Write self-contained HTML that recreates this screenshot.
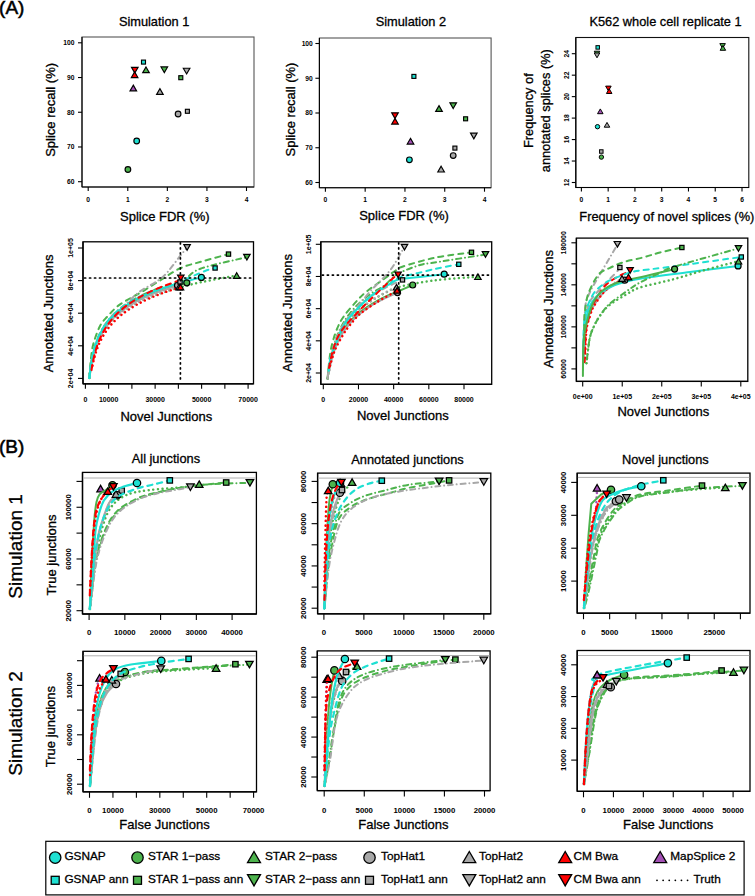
<!DOCTYPE html>
<html><head><meta charset="utf-8"><title>Figure</title>
<style>
html,body{margin:0;padding:0;background:#fff;}
body{width:755px;height:896px;overflow:hidden;}
svg{display:block;}
text{font-family:"Liberation Sans", sans-serif;}
</style></head><body>
<svg width="755" height="896" viewBox="0 0 755 896" font-family='"Liberation Sans", sans-serif'>
<rect width="100%" height="100%" fill="#fff"/>
<text x="-0.9" y="14.1" font-size="19" text-anchor="start" fill="#000" stroke="#000" stroke-width="0.55">(A)</text>
<text x="-1" y="452.8" font-size="19" text-anchor="start" fill="#000" stroke="#000" stroke-width="0.55">(B)</text>
<rect x="82" y="37" width="172" height="150" stroke="#555" stroke-width="1.1" fill="none"/>
<line x1="82" y1="37" x2="82" y2="187" stroke="#000" stroke-width="1.1" stroke-linecap="butt"/>
<line x1="82" y1="187" x2="254" y2="187" stroke="#000" stroke-width="1.1" stroke-linecap="butt"/>
<line x1="78" y1="181.7" x2="82" y2="181.7" stroke="#000" stroke-width="1.1" stroke-linecap="butt"/>
<text x="74.5" y="184.11" font-size="6.7" text-anchor="end" fill="#000" font-weight="bold">60</text>
<line x1="78" y1="146.97" x2="82" y2="146.97" stroke="#000" stroke-width="1.1" stroke-linecap="butt"/>
<text x="74.5" y="149.39" font-size="6.7" text-anchor="end" fill="#000" font-weight="bold">70</text>
<line x1="78" y1="112.25" x2="82" y2="112.25" stroke="#000" stroke-width="1.1" stroke-linecap="butt"/>
<text x="74.5" y="114.66" font-size="6.7" text-anchor="end" fill="#000" font-weight="bold">80</text>
<line x1="78" y1="77.53" x2="82" y2="77.53" stroke="#000" stroke-width="1.1" stroke-linecap="butt"/>
<text x="74.5" y="79.94" font-size="6.7" text-anchor="end" fill="#000" font-weight="bold">90</text>
<line x1="78" y1="42.8" x2="82" y2="42.8" stroke="#000" stroke-width="1.1" stroke-linecap="butt"/>
<text x="74.5" y="45.21" font-size="6.7" text-anchor="end" fill="#000" font-weight="bold">100</text>
<line x1="88.2" y1="187" x2="88.2" y2="191" stroke="#000" stroke-width="1.1" stroke-linecap="butt"/>
<text x="88.2" y="201.6" font-size="6.7" text-anchor="middle" fill="#000" font-weight="bold">0</text>
<line x1="127.78" y1="187" x2="127.78" y2="191" stroke="#000" stroke-width="1.1" stroke-linecap="butt"/>
<text x="127.78" y="201.6" font-size="6.7" text-anchor="middle" fill="#000" font-weight="bold">1</text>
<line x1="167.35" y1="187" x2="167.35" y2="191" stroke="#000" stroke-width="1.1" stroke-linecap="butt"/>
<text x="167.35" y="201.6" font-size="6.7" text-anchor="middle" fill="#000" font-weight="bold">2</text>
<line x1="206.93" y1="187" x2="206.93" y2="191" stroke="#000" stroke-width="1.1" stroke-linecap="butt"/>
<text x="206.93" y="201.6" font-size="6.7" text-anchor="middle" fill="#000" font-weight="bold">3</text>
<line x1="246.5" y1="187" x2="246.5" y2="191" stroke="#000" stroke-width="1.1" stroke-linecap="butt"/>
<text x="246.5" y="201.6" font-size="6.7" text-anchor="middle" fill="#000" font-weight="bold">4</text>
<text x="154.1" y="25.8" font-size="12.8" text-anchor="middle" fill="#000" stroke="#000" stroke-width="0.3">Simulation 1</text>
<text x="55" y="109.9" font-size="13" text-anchor="middle" fill="#000" transform="rotate(-90 55 109.9)" stroke="#000" stroke-width="0.3">Splice recall (%)</text>
<text x="164.8" y="220.8" font-size="13" text-anchor="middle" fill="#000" stroke="#000" stroke-width="0.3">Splice FDR (%)</text>
<rect x="141.5" y="60.1" width="3.99" height="3.99" fill="#1ee0d2" stroke="#000" stroke-width="1.15"/>
<polygon points="146,66.94 149.3,72.66 142.7,72.66" fill="#4db34d" stroke="#000" stroke-width="1.15" stroke-linejoin="miter"/>
<polygon points="164.3,72.66 167.6,66.94 161,66.94" fill="#4db34d" stroke="#000" stroke-width="1.15" stroke-linejoin="miter"/>
<polygon points="186.6,73.96 189.9,68.24 183.3,68.24" fill="#a8a8a8" stroke="#000" stroke-width="1.15" stroke-linejoin="miter"/>
<rect x="178.8" y="75.7" width="3.99" height="3.99" fill="#4db34d" stroke="#000" stroke-width="1.15"/>
<polygon points="134.8,73.06 138.1,67.34 131.5,67.34" fill="#ff0000" stroke="#000" stroke-width="1.15" stroke-linejoin="miter"/>
<polygon points="134.6,71.84 137.9,77.56 131.3,77.56" fill="#ff0000" stroke="#000" stroke-width="1.15" stroke-linejoin="miter"/>
<polygon points="133.3,85.14 136.6,90.86 130,90.86" fill="#a350b5" stroke="#000" stroke-width="1.15" stroke-linejoin="miter"/>
<polygon points="159.9,88.64 163.2,94.36 156.6,94.36" fill="#a8a8a8" stroke="#000" stroke-width="1.15" stroke-linejoin="miter"/>
<circle cx="178.1" cy="114" r="2.84" fill="#a8a8a8" stroke="#000" stroke-width="1.15"/>
<rect x="185.4" y="109.3" width="3.99" height="3.99" fill="#a8a8a8" stroke="#000" stroke-width="1.15"/>
<circle cx="136.7" cy="141" r="2.84" fill="#1ee0d2" stroke="#000" stroke-width="1.15"/>
<circle cx="127.9" cy="169.5" r="2.84" fill="#4db34d" stroke="#000" stroke-width="1.15"/>
<rect x="319.4" y="38" width="171.7" height="149.7" stroke="#555" stroke-width="1.1" fill="none"/>
<line x1="319.4" y1="38" x2="319.4" y2="187.7" stroke="#000" stroke-width="1.1" stroke-linecap="butt"/>
<line x1="319.4" y1="187.7" x2="491.1" y2="187.7" stroke="#000" stroke-width="1.1" stroke-linecap="butt"/>
<line x1="315.4" y1="182.5" x2="319.4" y2="182.5" stroke="#000" stroke-width="1.1" stroke-linecap="butt"/>
<text x="312.8" y="184.91" font-size="6.7" text-anchor="end" fill="#000" font-weight="bold">60</text>
<line x1="315.4" y1="147.75" x2="319.4" y2="147.75" stroke="#000" stroke-width="1.1" stroke-linecap="butt"/>
<text x="312.8" y="150.16" font-size="6.7" text-anchor="end" fill="#000" font-weight="bold">70</text>
<line x1="315.4" y1="113" x2="319.4" y2="113" stroke="#000" stroke-width="1.1" stroke-linecap="butt"/>
<text x="312.8" y="115.41" font-size="6.7" text-anchor="end" fill="#000" font-weight="bold">80</text>
<line x1="315.4" y1="78.25" x2="319.4" y2="78.25" stroke="#000" stroke-width="1.1" stroke-linecap="butt"/>
<text x="312.8" y="80.66" font-size="6.7" text-anchor="end" fill="#000" font-weight="bold">90</text>
<line x1="315.4" y1="43.5" x2="319.4" y2="43.5" stroke="#000" stroke-width="1.1" stroke-linecap="butt"/>
<text x="312.8" y="45.91" font-size="6.7" text-anchor="end" fill="#000" font-weight="bold">100</text>
<line x1="325.4" y1="187.7" x2="325.4" y2="191.7" stroke="#000" stroke-width="1.1" stroke-linecap="butt"/>
<text x="325.4" y="202.3" font-size="6.7" text-anchor="middle" fill="#000" font-weight="bold">0</text>
<line x1="365.17" y1="187.7" x2="365.17" y2="191.7" stroke="#000" stroke-width="1.1" stroke-linecap="butt"/>
<text x="365.17" y="202.3" font-size="6.7" text-anchor="middle" fill="#000" font-weight="bold">1</text>
<line x1="404.95" y1="187.7" x2="404.95" y2="191.7" stroke="#000" stroke-width="1.1" stroke-linecap="butt"/>
<text x="404.95" y="202.3" font-size="6.7" text-anchor="middle" fill="#000" font-weight="bold">2</text>
<line x1="444.73" y1="187.7" x2="444.73" y2="191.7" stroke="#000" stroke-width="1.1" stroke-linecap="butt"/>
<text x="444.73" y="202.3" font-size="6.7" text-anchor="middle" fill="#000" font-weight="bold">3</text>
<line x1="484.5" y1="187.7" x2="484.5" y2="191.7" stroke="#000" stroke-width="1.1" stroke-linecap="butt"/>
<text x="484.5" y="202.3" font-size="6.7" text-anchor="middle" fill="#000" font-weight="bold">4</text>
<text x="410.9" y="25.8" font-size="12.8" text-anchor="middle" fill="#000" stroke="#000" stroke-width="0.3">Simulation 2</text>
<text x="295.2" y="109.5" font-size="13" text-anchor="middle" fill="#000" transform="rotate(-90 295.2 109.5)" stroke="#000" stroke-width="0.3">Splice recall (%)</text>
<text x="404" y="220" font-size="13" text-anchor="middle" fill="#000" stroke="#000" stroke-width="0.3">Splice FDR (%)</text>
<rect x="411.9" y="74.4" width="3.99" height="3.99" fill="#1ee0d2" stroke="#000" stroke-width="1.15"/>
<polygon points="395,118.56 398.3,112.84 391.7,112.84" fill="#ff0000" stroke="#000" stroke-width="1.15" stroke-linejoin="miter"/>
<polygon points="395,118.34 398.3,124.06 391.7,124.06" fill="#ff0000" stroke="#000" stroke-width="1.15" stroke-linejoin="miter"/>
<polygon points="439,105.64 442.3,111.36 435.7,111.36" fill="#4db34d" stroke="#000" stroke-width="1.15" stroke-linejoin="miter"/>
<polygon points="453.2,108.56 456.5,102.84 449.9,102.84" fill="#4db34d" stroke="#000" stroke-width="1.15" stroke-linejoin="miter"/>
<rect x="463.6" y="116.8" width="3.99" height="3.99" fill="#4db34d" stroke="#000" stroke-width="1.15"/>
<polygon points="473.8,138.86 477.1,133.14 470.5,133.14" fill="#a8a8a8" stroke="#000" stroke-width="1.15" stroke-linejoin="miter"/>
<polygon points="410.5,138.34 413.8,144.06 407.2,144.06" fill="#a350b5" stroke="#000" stroke-width="1.15" stroke-linejoin="miter"/>
<rect x="452.9" y="146.1" width="3.99" height="3.99" fill="#a8a8a8" stroke="#000" stroke-width="1.15"/>
<circle cx="453.2" cy="155.6" r="2.84" fill="#a8a8a8" stroke="#000" stroke-width="1.15"/>
<circle cx="409.4" cy="159.8" r="2.84" fill="#1ee0d2" stroke="#000" stroke-width="1.15"/>
<polygon points="441.1,166.24 444.4,171.96 437.8,171.96" fill="#a8a8a8" stroke="#000" stroke-width="1.15" stroke-linejoin="miter"/>
<rect x="575.8" y="37.5" width="173" height="150" stroke="#111" stroke-width="1.1" fill="none"/>
<line x1="575.8" y1="37.5" x2="575.8" y2="187.5" stroke="#000" stroke-width="1.1" stroke-linecap="butt"/>
<line x1="575.8" y1="187.5" x2="748.8" y2="187.5" stroke="#000" stroke-width="1.1" stroke-linecap="butt"/>
<line x1="571.8" y1="182.5" x2="575.8" y2="182.5" stroke="#000" stroke-width="1.1" stroke-linecap="butt"/>
<text x="569.2" y="182.5" font-size="6.7" text-anchor="middle" fill="#000" transform="rotate(-90 569.2 182.5)" font-weight="bold">12</text>
<line x1="571.8" y1="161.03" x2="575.8" y2="161.03" stroke="#000" stroke-width="1.1" stroke-linecap="butt"/>
<text x="569.2" y="161.03" font-size="6.7" text-anchor="middle" fill="#000" transform="rotate(-90 569.2 161.03)" font-weight="bold">14</text>
<line x1="571.8" y1="139.57" x2="575.8" y2="139.57" stroke="#000" stroke-width="1.1" stroke-linecap="butt"/>
<text x="569.2" y="139.57" font-size="6.7" text-anchor="middle" fill="#000" transform="rotate(-90 569.2 139.57)" font-weight="bold">16</text>
<line x1="571.8" y1="118.1" x2="575.8" y2="118.1" stroke="#000" stroke-width="1.1" stroke-linecap="butt"/>
<text x="569.2" y="118.1" font-size="6.7" text-anchor="middle" fill="#000" transform="rotate(-90 569.2 118.1)" font-weight="bold">18</text>
<line x1="571.8" y1="96.63" x2="575.8" y2="96.63" stroke="#000" stroke-width="1.1" stroke-linecap="butt"/>
<text x="569.2" y="96.63" font-size="6.7" text-anchor="middle" fill="#000" transform="rotate(-90 569.2 96.63)" font-weight="bold">20</text>
<line x1="571.8" y1="75.17" x2="575.8" y2="75.17" stroke="#000" stroke-width="1.1" stroke-linecap="butt"/>
<text x="569.2" y="75.17" font-size="6.7" text-anchor="middle" fill="#000" transform="rotate(-90 569.2 75.17)" font-weight="bold">22</text>
<line x1="571.8" y1="53.7" x2="575.8" y2="53.7" stroke="#000" stroke-width="1.1" stroke-linecap="butt"/>
<text x="569.2" y="53.7" font-size="6.7" text-anchor="middle" fill="#000" transform="rotate(-90 569.2 53.7)" font-weight="bold">24</text>
<line x1="581.4" y1="187.5" x2="581.4" y2="191.5" stroke="#000" stroke-width="1.1" stroke-linecap="butt"/>
<text x="581.4" y="202.1" font-size="6.7" text-anchor="middle" fill="#000" font-weight="bold">0</text>
<line x1="608.17" y1="187.5" x2="608.17" y2="191.5" stroke="#000" stroke-width="1.1" stroke-linecap="butt"/>
<text x="608.17" y="202.1" font-size="6.7" text-anchor="middle" fill="#000" font-weight="bold">1</text>
<line x1="634.93" y1="187.5" x2="634.93" y2="191.5" stroke="#000" stroke-width="1.1" stroke-linecap="butt"/>
<text x="634.93" y="202.1" font-size="6.7" text-anchor="middle" fill="#000" font-weight="bold">2</text>
<line x1="661.7" y1="187.5" x2="661.7" y2="191.5" stroke="#000" stroke-width="1.1" stroke-linecap="butt"/>
<text x="661.7" y="202.1" font-size="6.7" text-anchor="middle" fill="#000" font-weight="bold">3</text>
<line x1="688.47" y1="187.5" x2="688.47" y2="191.5" stroke="#000" stroke-width="1.1" stroke-linecap="butt"/>
<text x="688.47" y="202.1" font-size="6.7" text-anchor="middle" fill="#000" font-weight="bold">4</text>
<line x1="715.23" y1="187.5" x2="715.23" y2="191.5" stroke="#000" stroke-width="1.1" stroke-linecap="butt"/>
<text x="715.23" y="202.1" font-size="6.7" text-anchor="middle" fill="#000" font-weight="bold">5</text>
<line x1="742" y1="187.5" x2="742" y2="191.5" stroke="#000" stroke-width="1.1" stroke-linecap="butt"/>
<text x="742" y="202.1" font-size="6.7" text-anchor="middle" fill="#000" font-weight="bold">6</text>
<text x="665.5" y="26" font-size="12.8" text-anchor="middle" fill="#000" stroke="#000" stroke-width="0.3">K562 whole cell replicate 1</text>
<text x="533" y="110.6" font-size="12.8" text-anchor="middle" fill="#000" transform="rotate(-90 533 110.6)" stroke="#000" stroke-width="0.3">Frequency of</text>
<text x="550" y="110.7" font-size="12.8" text-anchor="middle" fill="#000" transform="rotate(-90 550 110.7)" stroke="#000" stroke-width="0.3">annotated splices (%)</text>
<text x="666.8" y="220.5" font-size="12.8" text-anchor="middle" fill="#000" stroke="#000" stroke-width="0.3">Frequency of novel splices (%)</text>
<rect x="595.96" y="45.66" width="3.49" height="3.49" fill="#1ee0d2" stroke="#000" stroke-width="1"/>
<polygon points="597,55.99 599.76,51.21 594.24,51.21" fill="#4db34d" stroke="#000" stroke-width="1" stroke-linejoin="miter"/>
<polygon points="597,57.79 599.76,53.01 594.24,53.01" fill="#a8a8a8" stroke="#000" stroke-width="1" stroke-linejoin="miter"/>
<polygon points="608.4,90.89 611.16,86.11 605.64,86.11" fill="#ff0000" stroke="#000" stroke-width="1" stroke-linejoin="miter"/>
<polygon points="609.2,88.71 611.96,93.49 606.44,93.49" fill="#ff0000" stroke="#000" stroke-width="1" stroke-linejoin="miter"/>
<polygon points="722.6,48.39 725.36,43.61 719.84,43.61" fill="#4db34d" stroke="#000" stroke-width="1" stroke-linejoin="miter"/>
<polygon points="722.9,45.51 725.66,50.29 720.14,50.29" fill="#4db34d" stroke="#000" stroke-width="1" stroke-linejoin="miter"/>
<polygon points="600.3,108.91 603.06,113.69 597.54,113.69" fill="#a350b5" stroke="#000" stroke-width="1" stroke-linejoin="miter"/>
<polygon points="607,122.41 609.76,127.19 604.24,127.19" fill="#a8a8a8" stroke="#000" stroke-width="1" stroke-linejoin="miter"/>
<circle cx="597.5" cy="126.7" r="2.19" fill="#1ee0d2" stroke="#000" stroke-width="1"/>
<rect x="599.56" y="149.76" width="3.49" height="3.49" fill="#a8a8a8" stroke="#000" stroke-width="1"/>
<circle cx="601.4" cy="157.1" r="2.19" fill="#4db34d" stroke="#000" stroke-width="1"/>
<rect x="83" y="241.8" width="170.5" height="142" stroke="#000" stroke-width="1.3" fill="none"/>
<line x1="83" y1="241.8" x2="83" y2="383.8" stroke="#000" stroke-width="1.3" stroke-linecap="butt"/>
<line x1="83" y1="383.8" x2="253.5" y2="383.8" stroke="#000" stroke-width="1.3" stroke-linecap="butt"/>
<line x1="78" y1="378.4" x2="83" y2="378.4" stroke="#000" stroke-width="1.1" stroke-linecap="butt"/>
<text x="73.1" y="378.4" font-size="7" text-anchor="middle" fill="#000" transform="rotate(-90 73.1 378.4)" font-weight="bold">2e+04</text>
<line x1="78" y1="345.8" x2="83" y2="345.8" stroke="#000" stroke-width="1.1" stroke-linecap="butt"/>
<text x="73.1" y="345.8" font-size="7" text-anchor="middle" fill="#000" transform="rotate(-90 73.1 345.8)" font-weight="bold">4e+04</text>
<line x1="78" y1="313.2" x2="83" y2="313.2" stroke="#000" stroke-width="1.1" stroke-linecap="butt"/>
<text x="73.1" y="313.2" font-size="7" text-anchor="middle" fill="#000" transform="rotate(-90 73.1 313.2)" font-weight="bold">6e+04</text>
<line x1="78" y1="280.6" x2="83" y2="280.6" stroke="#000" stroke-width="1.1" stroke-linecap="butt"/>
<text x="73.1" y="280.6" font-size="7" text-anchor="middle" fill="#000" transform="rotate(-90 73.1 280.6)" font-weight="bold">8e+04</text>
<line x1="78" y1="248" x2="83" y2="248" stroke="#000" stroke-width="1.1" stroke-linecap="butt"/>
<text x="73.1" y="248" font-size="7" text-anchor="middle" fill="#000" transform="rotate(-90 73.1 248)" font-weight="bold">1e+05</text>
<line x1="85.4" y1="383.8" x2="85.4" y2="388.8" stroke="#000" stroke-width="1.1" stroke-linecap="butt"/>
<text x="85.4" y="401.9" font-size="7" text-anchor="middle" fill="#000" font-weight="bold">0</text>
<line x1="108.64" y1="383.8" x2="108.64" y2="388.8" stroke="#000" stroke-width="1.1" stroke-linecap="butt"/>
<text x="108.64" y="401.9" font-size="7" text-anchor="middle" fill="#000" font-weight="bold">10000</text>
<line x1="131.89" y1="383.8" x2="131.89" y2="388.8" stroke="#000" stroke-width="1.1" stroke-linecap="butt"/>
<line x1="155.13" y1="383.8" x2="155.13" y2="388.8" stroke="#000" stroke-width="1.1" stroke-linecap="butt"/>
<text x="155.13" y="401.9" font-size="7" text-anchor="middle" fill="#000" font-weight="bold">30000</text>
<line x1="178.37" y1="383.8" x2="178.37" y2="388.8" stroke="#000" stroke-width="1.1" stroke-linecap="butt"/>
<line x1="201.61" y1="383.8" x2="201.61" y2="388.8" stroke="#000" stroke-width="1.1" stroke-linecap="butt"/>
<text x="201.61" y="401.9" font-size="7" text-anchor="middle" fill="#000" font-weight="bold">50000</text>
<line x1="224.86" y1="383.8" x2="224.86" y2="388.8" stroke="#000" stroke-width="1.1" stroke-linecap="butt"/>
<line x1="248.1" y1="383.8" x2="248.1" y2="388.8" stroke="#000" stroke-width="1.1" stroke-linecap="butt"/>
<text x="248.1" y="401.9" font-size="7" text-anchor="middle" fill="#000" font-weight="bold">70000</text>
<text x="166.3" y="420.5" font-size="13" text-anchor="middle" fill="#000" stroke="#000" stroke-width="0.3">Novel Junctions</text>
<text x="53" y="313.4" font-size="13" text-anchor="middle" fill="#000" transform="rotate(-90 53 313.4)" stroke="#000" stroke-width="0.3">Annotated Junctions</text>
<rect x="320.8" y="241.8" width="170.9" height="142.5" stroke="#000" stroke-width="1.3" fill="none"/>
<line x1="320.8" y1="241.8" x2="320.8" y2="384.3" stroke="#000" stroke-width="1.3" stroke-linecap="butt"/>
<line x1="320.8" y1="384.3" x2="491.7" y2="384.3" stroke="#000" stroke-width="1.3" stroke-linecap="butt"/>
<line x1="315.8" y1="373" x2="320.8" y2="373" stroke="#000" stroke-width="1.1" stroke-linecap="butt"/>
<text x="311.3" y="373" font-size="7" text-anchor="middle" fill="#000" transform="rotate(-90 311.3 373)" font-weight="bold">2e+04</text>
<line x1="315.8" y1="340.82" x2="320.8" y2="340.82" stroke="#000" stroke-width="1.1" stroke-linecap="butt"/>
<text x="311.3" y="340.82" font-size="7" text-anchor="middle" fill="#000" transform="rotate(-90 311.3 340.82)" font-weight="bold">4e+04</text>
<line x1="315.8" y1="308.65" x2="320.8" y2="308.65" stroke="#000" stroke-width="1.1" stroke-linecap="butt"/>
<text x="311.3" y="308.65" font-size="7" text-anchor="middle" fill="#000" transform="rotate(-90 311.3 308.65)" font-weight="bold">6e+04</text>
<line x1="315.8" y1="276.48" x2="320.8" y2="276.48" stroke="#000" stroke-width="1.1" stroke-linecap="butt"/>
<text x="311.3" y="276.48" font-size="7" text-anchor="middle" fill="#000" transform="rotate(-90 311.3 276.48)" font-weight="bold">8e+04</text>
<line x1="315.8" y1="244.3" x2="320.8" y2="244.3" stroke="#000" stroke-width="1.1" stroke-linecap="butt"/>
<text x="311.3" y="244.3" font-size="7" text-anchor="middle" fill="#000" transform="rotate(-90 311.3 244.3)" font-weight="bold">1e+05</text>
<line x1="323.3" y1="384.3" x2="323.3" y2="389.3" stroke="#000" stroke-width="1.1" stroke-linecap="butt"/>
<text x="323.3" y="401.9" font-size="7" text-anchor="middle" fill="#000" font-weight="bold">0</text>
<line x1="358.48" y1="384.3" x2="358.48" y2="389.3" stroke="#000" stroke-width="1.1" stroke-linecap="butt"/>
<text x="358.48" y="401.9" font-size="7" text-anchor="middle" fill="#000" font-weight="bold">20000</text>
<line x1="393.65" y1="384.3" x2="393.65" y2="389.3" stroke="#000" stroke-width="1.1" stroke-linecap="butt"/>
<text x="393.65" y="401.9" font-size="7" text-anchor="middle" fill="#000" font-weight="bold">40000</text>
<line x1="428.83" y1="384.3" x2="428.83" y2="389.3" stroke="#000" stroke-width="1.1" stroke-linecap="butt"/>
<text x="428.83" y="401.9" font-size="7" text-anchor="middle" fill="#000" font-weight="bold">60000</text>
<line x1="464" y1="384.3" x2="464" y2="389.3" stroke="#000" stroke-width="1.1" stroke-linecap="butt"/>
<text x="464" y="401.9" font-size="7" text-anchor="middle" fill="#000" font-weight="bold">80000</text>
<text x="402.8" y="419.8" font-size="13" text-anchor="middle" fill="#000" stroke="#000" stroke-width="0.3">Novel Junctions</text>
<text x="291.8" y="313" font-size="13" text-anchor="middle" fill="#000" transform="rotate(-90 291.8 313)" stroke="#000" stroke-width="0.3">Annotated Junctions</text>
<rect x="576.4" y="238.1" width="171.4" height="143.3" stroke="#000" stroke-width="1.3" fill="none"/>
<line x1="576.4" y1="238.1" x2="576.4" y2="381.4" stroke="#000" stroke-width="1.3" stroke-linecap="butt"/>
<line x1="576.4" y1="381.4" x2="747.8" y2="381.4" stroke="#000" stroke-width="1.3" stroke-linecap="butt"/>
<line x1="571.4" y1="368.9" x2="576.4" y2="368.9" stroke="#000" stroke-width="1.1" stroke-linecap="butt"/>
<text x="566.2" y="368.9" font-size="7" text-anchor="middle" fill="#000" transform="rotate(-90 566.2 368.9)" font-weight="bold">60000</text>
<line x1="571.4" y1="347.88" x2="576.4" y2="347.88" stroke="#000" stroke-width="1.1" stroke-linecap="butt"/>
<line x1="571.4" y1="326.87" x2="576.4" y2="326.87" stroke="#000" stroke-width="1.1" stroke-linecap="butt"/>
<text x="566.2" y="326.87" font-size="7" text-anchor="middle" fill="#000" transform="rotate(-90 566.2 326.87)" font-weight="bold">100000</text>
<line x1="571.4" y1="305.85" x2="576.4" y2="305.85" stroke="#000" stroke-width="1.1" stroke-linecap="butt"/>
<line x1="571.4" y1="284.83" x2="576.4" y2="284.83" stroke="#000" stroke-width="1.1" stroke-linecap="butt"/>
<text x="566.2" y="284.83" font-size="7" text-anchor="middle" fill="#000" transform="rotate(-90 566.2 284.83)" font-weight="bold">140000</text>
<line x1="571.4" y1="263.82" x2="576.4" y2="263.82" stroke="#000" stroke-width="1.1" stroke-linecap="butt"/>
<line x1="571.4" y1="242.8" x2="576.4" y2="242.8" stroke="#000" stroke-width="1.1" stroke-linecap="butt"/>
<text x="566.2" y="242.8" font-size="7" text-anchor="middle" fill="#000" transform="rotate(-90 566.2 242.8)" font-weight="bold">180000</text>
<line x1="582.7" y1="381.4" x2="582.7" y2="386.4" stroke="#000" stroke-width="1.1" stroke-linecap="butt"/>
<text x="582.7" y="399.2" font-size="7" text-anchor="middle" fill="#000" font-weight="bold">0e+00</text>
<line x1="622.23" y1="381.4" x2="622.23" y2="386.4" stroke="#000" stroke-width="1.1" stroke-linecap="butt"/>
<text x="622.23" y="399.2" font-size="7" text-anchor="middle" fill="#000" font-weight="bold">1e+05</text>
<line x1="661.75" y1="381.4" x2="661.75" y2="386.4" stroke="#000" stroke-width="1.1" stroke-linecap="butt"/>
<text x="661.75" y="399.2" font-size="7" text-anchor="middle" fill="#000" font-weight="bold">2e+05</text>
<line x1="701.27" y1="381.4" x2="701.27" y2="386.4" stroke="#000" stroke-width="1.1" stroke-linecap="butt"/>
<text x="701.27" y="399.2" font-size="7" text-anchor="middle" fill="#000" font-weight="bold">3e+05</text>
<line x1="740.8" y1="381.4" x2="740.8" y2="386.4" stroke="#000" stroke-width="1.1" stroke-linecap="butt"/>
<text x="740.8" y="399.2" font-size="7" text-anchor="middle" fill="#000" font-weight="bold">4e+05</text>
<text x="663.3" y="416" font-size="13" text-anchor="middle" fill="#000" stroke="#000" stroke-width="0.3">Novel Junctions</text>
<text x="552.8" y="309" font-size="13" text-anchor="middle" fill="#000" transform="rotate(-90 552.8 309)" stroke="#000" stroke-width="0.3">Annotated Junctions</text>
<rect x="82.5" y="472.4" width="173.9" height="141.6" stroke="#000" stroke-width="1.3" fill="none"/>
<line x1="82.5" y1="472.4" x2="82.5" y2="614" stroke="#000" stroke-width="1.3" stroke-linecap="butt"/>
<line x1="82.5" y1="614" x2="256.4" y2="614" stroke="#000" stroke-width="1.3" stroke-linecap="butt"/>
<line x1="76.5" y1="610.7" x2="82.5" y2="610.7" stroke="#000" stroke-width="1.1" stroke-linecap="butt"/>
<text x="71.4" y="610.7" font-size="7.8" text-anchor="middle" fill="#000" transform="rotate(-90 71.4 610.7)" font-weight="bold">20000</text>
<line x1="76.5" y1="584.84" x2="82.5" y2="584.84" stroke="#000" stroke-width="1.1" stroke-linecap="butt"/>
<line x1="76.5" y1="558.98" x2="82.5" y2="558.98" stroke="#000" stroke-width="1.1" stroke-linecap="butt"/>
<text x="71.4" y="558.98" font-size="7.8" text-anchor="middle" fill="#000" transform="rotate(-90 71.4 558.98)" font-weight="bold">60000</text>
<line x1="76.5" y1="533.12" x2="82.5" y2="533.12" stroke="#000" stroke-width="1.1" stroke-linecap="butt"/>
<line x1="76.5" y1="507.26" x2="82.5" y2="507.26" stroke="#000" stroke-width="1.1" stroke-linecap="butt"/>
<text x="71.4" y="507.26" font-size="7.8" text-anchor="middle" fill="#000" transform="rotate(-90 71.4 507.26)" font-weight="bold">100000</text>
<line x1="76.5" y1="481.4" x2="82.5" y2="481.4" stroke="#000" stroke-width="1.1" stroke-linecap="butt"/>
<line x1="89.1" y1="614" x2="89.1" y2="620" stroke="#000" stroke-width="1.1" stroke-linecap="butt"/>
<text x="89.1" y="634.6" font-size="7.8" text-anchor="middle" fill="#000" font-weight="bold">0</text>
<line x1="124.85" y1="614" x2="124.85" y2="620" stroke="#000" stroke-width="1.1" stroke-linecap="butt"/>
<text x="124.85" y="634.6" font-size="7.8" text-anchor="middle" fill="#000" font-weight="bold">10000</text>
<line x1="160.6" y1="614" x2="160.6" y2="620" stroke="#000" stroke-width="1.1" stroke-linecap="butt"/>
<text x="160.6" y="634.6" font-size="7.8" text-anchor="middle" fill="#000" font-weight="bold">20000</text>
<line x1="196.35" y1="614" x2="196.35" y2="620" stroke="#000" stroke-width="1.1" stroke-linecap="butt"/>
<text x="196.35" y="634.6" font-size="7.8" text-anchor="middle" fill="#000" font-weight="bold">30000</text>
<line x1="232.1" y1="614" x2="232.1" y2="620" stroke="#000" stroke-width="1.1" stroke-linecap="butt"/>
<text x="232.1" y="634.6" font-size="7.8" text-anchor="middle" fill="#000" font-weight="bold">40000</text>
<line x1="83.2" y1="478" x2="255.7" y2="478" stroke="#b0b0b0" stroke-width="1" stroke-linecap="butt"/>
<rect x="317.6" y="473.1" width="173.2" height="140.7" stroke="#000" stroke-width="1.3" fill="none"/>
<line x1="317.6" y1="473.1" x2="317.6" y2="613.8" stroke="#000" stroke-width="1.3" stroke-linecap="butt"/>
<line x1="317.6" y1="613.8" x2="490.8" y2="613.8" stroke="#000" stroke-width="1.3" stroke-linecap="butt"/>
<line x1="311.6" y1="608.2" x2="317.6" y2="608.2" stroke="#000" stroke-width="1.1" stroke-linecap="butt"/>
<text x="306.5" y="608.2" font-size="7.8" text-anchor="middle" fill="#000" transform="rotate(-90 306.5 608.2)" font-weight="bold">20000</text>
<line x1="311.6" y1="587.07" x2="317.6" y2="587.07" stroke="#000" stroke-width="1.1" stroke-linecap="butt"/>
<line x1="311.6" y1="565.93" x2="317.6" y2="565.93" stroke="#000" stroke-width="1.1" stroke-linecap="butt"/>
<text x="306.5" y="565.93" font-size="7.8" text-anchor="middle" fill="#000" transform="rotate(-90 306.5 565.93)" font-weight="bold">40000</text>
<line x1="311.6" y1="544.8" x2="317.6" y2="544.8" stroke="#000" stroke-width="1.1" stroke-linecap="butt"/>
<line x1="311.6" y1="523.67" x2="317.6" y2="523.67" stroke="#000" stroke-width="1.1" stroke-linecap="butt"/>
<text x="306.5" y="523.67" font-size="7.8" text-anchor="middle" fill="#000" transform="rotate(-90 306.5 523.67)" font-weight="bold">60000</text>
<line x1="311.6" y1="502.53" x2="317.6" y2="502.53" stroke="#000" stroke-width="1.1" stroke-linecap="butt"/>
<line x1="311.6" y1="481.4" x2="317.6" y2="481.4" stroke="#000" stroke-width="1.1" stroke-linecap="butt"/>
<text x="306.5" y="481.4" font-size="7.8" text-anchor="middle" fill="#000" transform="rotate(-90 306.5 481.4)" font-weight="bold">80000</text>
<line x1="323.9" y1="613.8" x2="323.9" y2="619.8" stroke="#000" stroke-width="1.1" stroke-linecap="butt"/>
<text x="323.9" y="634.6" font-size="7.8" text-anchor="middle" fill="#000" font-weight="bold">0</text>
<line x1="363.88" y1="613.8" x2="363.88" y2="619.8" stroke="#000" stroke-width="1.1" stroke-linecap="butt"/>
<text x="363.88" y="634.6" font-size="7.8" text-anchor="middle" fill="#000" font-weight="bold">5000</text>
<line x1="403.85" y1="613.8" x2="403.85" y2="619.8" stroke="#000" stroke-width="1.1" stroke-linecap="butt"/>
<text x="403.85" y="634.6" font-size="7.8" text-anchor="middle" fill="#000" font-weight="bold">10000</text>
<line x1="443.82" y1="613.8" x2="443.82" y2="619.8" stroke="#000" stroke-width="1.1" stroke-linecap="butt"/>
<text x="443.82" y="634.6" font-size="7.8" text-anchor="middle" fill="#000" font-weight="bold">15000</text>
<line x1="483.8" y1="613.8" x2="483.8" y2="619.8" stroke="#000" stroke-width="1.1" stroke-linecap="butt"/>
<text x="483.8" y="634.6" font-size="7.8" text-anchor="middle" fill="#000" font-weight="bold">20000</text>
<line x1="318.3" y1="478.1" x2="490.1" y2="478.1" stroke="#b0b0b0" stroke-width="1" stroke-linecap="butt"/>
<rect x="577.2" y="473.1" width="172.8" height="140.1" stroke="#000" stroke-width="1.3" fill="none"/>
<line x1="577.2" y1="473.1" x2="577.2" y2="613.2" stroke="#000" stroke-width="1.3" stroke-linecap="butt"/>
<line x1="577.2" y1="613.2" x2="750" y2="613.2" stroke="#000" stroke-width="1.3" stroke-linecap="butt"/>
<line x1="571.2" y1="581.1" x2="577.2" y2="581.1" stroke="#000" stroke-width="1.1" stroke-linecap="butt"/>
<text x="566.1" y="581.1" font-size="7.8" text-anchor="middle" fill="#000" transform="rotate(-90 566.1 581.1)" font-weight="bold">10000</text>
<line x1="571.2" y1="548.2" x2="577.2" y2="548.2" stroke="#000" stroke-width="1.1" stroke-linecap="butt"/>
<text x="566.1" y="548.2" font-size="7.8" text-anchor="middle" fill="#000" transform="rotate(-90 566.1 548.2)" font-weight="bold">20000</text>
<line x1="571.2" y1="515.3" x2="577.2" y2="515.3" stroke="#000" stroke-width="1.1" stroke-linecap="butt"/>
<text x="566.1" y="515.3" font-size="7.8" text-anchor="middle" fill="#000" transform="rotate(-90 566.1 515.3)" font-weight="bold">30000</text>
<line x1="571.2" y1="482.4" x2="577.2" y2="482.4" stroke="#000" stroke-width="1.1" stroke-linecap="butt"/>
<text x="566.1" y="482.4" font-size="7.8" text-anchor="middle" fill="#000" transform="rotate(-90 566.1 482.4)" font-weight="bold">40000</text>
<line x1="583.5" y1="613.2" x2="583.5" y2="619.2" stroke="#000" stroke-width="1.1" stroke-linecap="butt"/>
<text x="583.5" y="634.6" font-size="7.8" text-anchor="middle" fill="#000" font-weight="bold">0</text>
<line x1="609.65" y1="613.2" x2="609.65" y2="619.2" stroke="#000" stroke-width="1.1" stroke-linecap="butt"/>
<text x="609.65" y="634.6" font-size="7.8" text-anchor="middle" fill="#000" font-weight="bold">5000</text>
<line x1="635.8" y1="613.2" x2="635.8" y2="619.2" stroke="#000" stroke-width="1.1" stroke-linecap="butt"/>
<line x1="661.95" y1="613.2" x2="661.95" y2="619.2" stroke="#000" stroke-width="1.1" stroke-linecap="butt"/>
<text x="661.95" y="634.6" font-size="7.8" text-anchor="middle" fill="#000" font-weight="bold">15000</text>
<line x1="688.1" y1="613.2" x2="688.1" y2="619.2" stroke="#000" stroke-width="1.1" stroke-linecap="butt"/>
<line x1="714.25" y1="613.2" x2="714.25" y2="619.2" stroke="#000" stroke-width="1.1" stroke-linecap="butt"/>
<text x="714.25" y="634.6" font-size="7.8" text-anchor="middle" fill="#000" font-weight="bold">25000</text>
<line x1="740.4" y1="613.2" x2="740.4" y2="619.2" stroke="#000" stroke-width="1.1" stroke-linecap="butt"/>
<line x1="577.9" y1="477.4" x2="749.3" y2="477.4" stroke="#b0b0b0" stroke-width="1" stroke-linecap="butt"/>
<rect x="83" y="651.3" width="173.5" height="140.5" stroke="#000" stroke-width="1.3" fill="none"/>
<line x1="83" y1="651.3" x2="83" y2="791.8" stroke="#000" stroke-width="1.3" stroke-linecap="butt"/>
<line x1="83" y1="791.8" x2="256.5" y2="791.8" stroke="#000" stroke-width="1.3" stroke-linecap="butt"/>
<line x1="77" y1="784.2" x2="83" y2="784.2" stroke="#000" stroke-width="1.1" stroke-linecap="butt"/>
<text x="71.9" y="784.2" font-size="7.8" text-anchor="middle" fill="#000" transform="rotate(-90 71.9 784.2)" font-weight="bold">20000</text>
<line x1="77" y1="759.5" x2="83" y2="759.5" stroke="#000" stroke-width="1.1" stroke-linecap="butt"/>
<line x1="77" y1="734.8" x2="83" y2="734.8" stroke="#000" stroke-width="1.1" stroke-linecap="butt"/>
<text x="71.9" y="734.8" font-size="7.8" text-anchor="middle" fill="#000" transform="rotate(-90 71.9 734.8)" font-weight="bold">60000</text>
<line x1="77" y1="710.1" x2="83" y2="710.1" stroke="#000" stroke-width="1.1" stroke-linecap="butt"/>
<line x1="77" y1="685.4" x2="83" y2="685.4" stroke="#000" stroke-width="1.1" stroke-linecap="butt"/>
<text x="71.9" y="685.4" font-size="7.8" text-anchor="middle" fill="#000" transform="rotate(-90 71.9 685.4)" font-weight="bold">100000</text>
<line x1="77" y1="660.7" x2="83" y2="660.7" stroke="#000" stroke-width="1.1" stroke-linecap="butt"/>
<line x1="89.5" y1="791.8" x2="89.5" y2="797.8" stroke="#000" stroke-width="1.1" stroke-linecap="butt"/>
<text x="89.5" y="812.7" font-size="7.8" text-anchor="middle" fill="#000" font-weight="bold">0</text>
<line x1="112.94" y1="791.8" x2="112.94" y2="797.8" stroke="#000" stroke-width="1.1" stroke-linecap="butt"/>
<text x="112.94" y="812.7" font-size="7.8" text-anchor="middle" fill="#000" font-weight="bold">10000</text>
<line x1="136.39" y1="791.8" x2="136.39" y2="797.8" stroke="#000" stroke-width="1.1" stroke-linecap="butt"/>
<line x1="159.83" y1="791.8" x2="159.83" y2="797.8" stroke="#000" stroke-width="1.1" stroke-linecap="butt"/>
<text x="159.83" y="812.7" font-size="7.8" text-anchor="middle" fill="#000" font-weight="bold">30000</text>
<line x1="183.27" y1="791.8" x2="183.27" y2="797.8" stroke="#000" stroke-width="1.1" stroke-linecap="butt"/>
<line x1="206.71" y1="791.8" x2="206.71" y2="797.8" stroke="#000" stroke-width="1.1" stroke-linecap="butt"/>
<text x="206.71" y="812.7" font-size="7.8" text-anchor="middle" fill="#000" font-weight="bold">50000</text>
<line x1="230.16" y1="791.8" x2="230.16" y2="797.8" stroke="#000" stroke-width="1.1" stroke-linecap="butt"/>
<line x1="253.6" y1="791.8" x2="253.6" y2="797.8" stroke="#000" stroke-width="1.1" stroke-linecap="butt"/>
<text x="253.6" y="812.7" font-size="7.8" text-anchor="middle" fill="#000" font-weight="bold">70000</text>
<line x1="83.7" y1="655.8" x2="255.8" y2="655.8" stroke="#b0b0b0" stroke-width="1" stroke-linecap="butt"/>
<rect x="317.3" y="650.9" width="172.8" height="139.7" stroke="#000" stroke-width="1.3" fill="none"/>
<line x1="317.3" y1="650.9" x2="317.3" y2="790.6" stroke="#000" stroke-width="1.3" stroke-linecap="butt"/>
<line x1="317.3" y1="790.6" x2="490.1" y2="790.6" stroke="#000" stroke-width="1.3" stroke-linecap="butt"/>
<line x1="311.3" y1="777" x2="317.3" y2="777" stroke="#000" stroke-width="1.1" stroke-linecap="butt"/>
<text x="306.2" y="777" font-size="7.8" text-anchor="middle" fill="#000" transform="rotate(-90 306.2 777)" font-weight="bold">20000</text>
<line x1="311.3" y1="757.03" x2="317.3" y2="757.03" stroke="#000" stroke-width="1.1" stroke-linecap="butt"/>
<line x1="311.3" y1="737.07" x2="317.3" y2="737.07" stroke="#000" stroke-width="1.1" stroke-linecap="butt"/>
<text x="306.2" y="737.07" font-size="7.8" text-anchor="middle" fill="#000" transform="rotate(-90 306.2 737.07)" font-weight="bold">40000</text>
<line x1="311.3" y1="717.1" x2="317.3" y2="717.1" stroke="#000" stroke-width="1.1" stroke-linecap="butt"/>
<line x1="311.3" y1="697.13" x2="317.3" y2="697.13" stroke="#000" stroke-width="1.1" stroke-linecap="butt"/>
<text x="306.2" y="697.13" font-size="7.8" text-anchor="middle" fill="#000" transform="rotate(-90 306.2 697.13)" font-weight="bold">60000</text>
<line x1="311.3" y1="677.17" x2="317.3" y2="677.17" stroke="#000" stroke-width="1.1" stroke-linecap="butt"/>
<line x1="311.3" y1="657.2" x2="317.3" y2="657.2" stroke="#000" stroke-width="1.1" stroke-linecap="butt"/>
<text x="306.2" y="657.2" font-size="7.8" text-anchor="middle" fill="#000" transform="rotate(-90 306.2 657.2)" font-weight="bold">80000</text>
<line x1="324.2" y1="790.6" x2="324.2" y2="796.6" stroke="#000" stroke-width="1.1" stroke-linecap="butt"/>
<text x="324.2" y="812.7" font-size="7.8" text-anchor="middle" fill="#000" font-weight="bold">0</text>
<line x1="364.27" y1="790.6" x2="364.27" y2="796.6" stroke="#000" stroke-width="1.1" stroke-linecap="butt"/>
<text x="364.27" y="812.7" font-size="7.8" text-anchor="middle" fill="#000" font-weight="bold">5000</text>
<line x1="404.35" y1="790.6" x2="404.35" y2="796.6" stroke="#000" stroke-width="1.1" stroke-linecap="butt"/>
<text x="404.35" y="812.7" font-size="7.8" text-anchor="middle" fill="#000" font-weight="bold">10000</text>
<line x1="444.42" y1="790.6" x2="444.42" y2="796.6" stroke="#000" stroke-width="1.1" stroke-linecap="butt"/>
<text x="444.42" y="812.7" font-size="7.8" text-anchor="middle" fill="#000" font-weight="bold">15000</text>
<line x1="484.5" y1="790.6" x2="484.5" y2="796.6" stroke="#000" stroke-width="1.1" stroke-linecap="butt"/>
<text x="484.5" y="812.7" font-size="7.8" text-anchor="middle" fill="#000" font-weight="bold">20000</text>
<line x1="318" y1="655.5" x2="489.4" y2="655.5" stroke="#b0b0b0" stroke-width="1" stroke-linecap="butt"/>
<rect x="577.2" y="650.5" width="172.8" height="140.8" stroke="#000" stroke-width="1.3" fill="none"/>
<line x1="577.2" y1="650.5" x2="577.2" y2="791.3" stroke="#000" stroke-width="1.3" stroke-linecap="butt"/>
<line x1="577.2" y1="791.3" x2="750" y2="791.3" stroke="#000" stroke-width="1.3" stroke-linecap="butt"/>
<line x1="571.2" y1="760.1" x2="577.2" y2="760.1" stroke="#000" stroke-width="1.1" stroke-linecap="butt"/>
<text x="566.1" y="760.1" font-size="7.8" text-anchor="middle" fill="#000" transform="rotate(-90 566.1 760.1)" font-weight="bold">10000</text>
<line x1="571.2" y1="728.33" x2="577.2" y2="728.33" stroke="#000" stroke-width="1.1" stroke-linecap="butt"/>
<text x="566.1" y="728.33" font-size="7.8" text-anchor="middle" fill="#000" transform="rotate(-90 566.1 728.33)" font-weight="bold">20000</text>
<line x1="571.2" y1="696.57" x2="577.2" y2="696.57" stroke="#000" stroke-width="1.1" stroke-linecap="butt"/>
<text x="566.1" y="696.57" font-size="7.8" text-anchor="middle" fill="#000" transform="rotate(-90 566.1 696.57)" font-weight="bold">30000</text>
<line x1="571.2" y1="664.8" x2="577.2" y2="664.8" stroke="#000" stroke-width="1.1" stroke-linecap="butt"/>
<text x="566.1" y="664.8" font-size="7.8" text-anchor="middle" fill="#000" transform="rotate(-90 566.1 664.8)" font-weight="bold">40000</text>
<line x1="583.5" y1="791.3" x2="583.5" y2="797.3" stroke="#000" stroke-width="1.1" stroke-linecap="butt"/>
<text x="583.5" y="812.7" font-size="7.8" text-anchor="middle" fill="#000" font-weight="bold">0</text>
<line x1="613.42" y1="791.3" x2="613.42" y2="797.3" stroke="#000" stroke-width="1.1" stroke-linecap="butt"/>
<text x="613.42" y="812.7" font-size="7.8" text-anchor="middle" fill="#000" font-weight="bold">10000</text>
<line x1="643.34" y1="791.3" x2="643.34" y2="797.3" stroke="#000" stroke-width="1.1" stroke-linecap="butt"/>
<text x="643.34" y="812.7" font-size="7.8" text-anchor="middle" fill="#000" font-weight="bold">20000</text>
<line x1="673.26" y1="791.3" x2="673.26" y2="797.3" stroke="#000" stroke-width="1.1" stroke-linecap="butt"/>
<text x="673.26" y="812.7" font-size="7.8" text-anchor="middle" fill="#000" font-weight="bold">30000</text>
<line x1="703.18" y1="791.3" x2="703.18" y2="797.3" stroke="#000" stroke-width="1.1" stroke-linecap="butt"/>
<text x="703.18" y="812.7" font-size="7.8" text-anchor="middle" fill="#000" font-weight="bold">40000</text>
<line x1="733.1" y1="791.3" x2="733.1" y2="797.3" stroke="#000" stroke-width="1.1" stroke-linecap="butt"/>
<text x="733.1" y="812.7" font-size="7.8" text-anchor="middle" fill="#000" font-weight="bold">50000</text>
<line x1="577.9" y1="655.5" x2="749.3" y2="655.5" stroke="#b0b0b0" stroke-width="1" stroke-linecap="butt"/>
<text x="165.9" y="462.9" font-size="12.8" text-anchor="middle" fill="#000" stroke="#000" stroke-width="0.3">All junctions</text>
<text x="407.5" y="463.5" font-size="12.8" text-anchor="middle" fill="#000" stroke="#000" stroke-width="0.3">Annotated junctions</text>
<text x="665.3" y="463.6" font-size="12.8" text-anchor="middle" fill="#000" stroke="#000" stroke-width="0.3">Novel junctions</text>
<text x="22.5" y="546.4" font-size="19" text-anchor="middle" fill="#000" transform="rotate(-90 22.5 546.4)" stroke="#000" stroke-width="0.3">Simulation 1</text>
<text x="22" y="723.4" font-size="19" text-anchor="middle" fill="#000" transform="rotate(-90 22 723.4)" stroke="#000" stroke-width="0.3">Simulation 2</text>
<text x="55.5" y="555" font-size="13" text-anchor="middle" fill="#000" transform="rotate(-90 55.5 555)" stroke="#000" stroke-width="0.3">True junctions</text>
<text x="55.5" y="726.6" font-size="13" text-anchor="middle" fill="#000" transform="rotate(-90 55.5 726.6)" stroke="#000" stroke-width="0.3">True junctions</text>
<text x="164.5" y="829.3" font-size="13" text-anchor="middle" fill="#000" stroke="#000" stroke-width="0.3">False Junctions</text>
<text x="403.4" y="829.3" font-size="13" text-anchor="middle" fill="#000" stroke="#000" stroke-width="0.3">False Junctions</text>
<text x="668.2" y="829.3" font-size="13" text-anchor="middle" fill="#000" stroke="#000" stroke-width="0.3">False Junctions</text>
<rect x="45.8" y="841.3" width="698.3" height="53.6" stroke="#000" stroke-width="1.2" fill="none"/>
<circle cx="55.2" cy="857.6" r="5.7" fill="#1ee0d2" stroke="#000" stroke-width="1.3"/>
<rect x="51.21" y="876.31" width="7.97" height="7.97" fill="#1ee0d2" stroke="#000" stroke-width="1.3"/>
<text x="64.4" y="860.1" font-size="11.8" text-anchor="start" fill="#000" stroke="#000" stroke-width="0.3">GSNAP</text>
<text x="64.4" y="882.5" font-size="11.8" text-anchor="start" fill="#000" stroke="#000" stroke-width="0.3">GSNAP ann</text>
<circle cx="137.5" cy="857.6" r="5.7" fill="#4db34d" stroke="#000" stroke-width="1.3"/>
<rect x="133.51" y="876.31" width="7.97" height="7.97" fill="#4db34d" stroke="#000" stroke-width="1.3"/>
<text x="148" y="860.1" font-size="11.8" text-anchor="start" fill="#000" stroke="#000" stroke-width="0.3">STAR 1−pass</text>
<text x="148" y="882.5" font-size="11.8" text-anchor="start" fill="#000" stroke="#000" stroke-width="0.3">STAR 1−pass ann</text>
<polygon points="254,851.5 260.47,862.7 247.53,862.7" fill="#4db34d" stroke="#000" stroke-width="1.3" stroke-linejoin="miter"/>
<polygon points="254,885.9 260.47,874.7 247.53,874.7" fill="#4db34d" stroke="#000" stroke-width="1.3" stroke-linejoin="miter"/>
<text x="265" y="860.1" font-size="11.8" text-anchor="start" fill="#000" stroke="#000" stroke-width="0.3">STAR 2−pass</text>
<text x="265" y="882.5" font-size="11.8" text-anchor="start" fill="#000" stroke="#000" stroke-width="0.3">STAR 2−pass ann</text>
<circle cx="369.5" cy="857.6" r="5.7" fill="#a8a8a8" stroke="#000" stroke-width="1.3"/>
<rect x="365.51" y="876.31" width="7.97" height="7.97" fill="#a8a8a8" stroke="#000" stroke-width="1.3"/>
<text x="381" y="860.1" font-size="11.8" text-anchor="start" fill="#000" stroke="#000" stroke-width="0.3">TopHat1</text>
<text x="381" y="882.5" font-size="11.8" text-anchor="start" fill="#000" stroke="#000" stroke-width="0.3">TopHat1 ann</text>
<polygon points="469.3,851.5 475.77,862.7 462.83,862.7" fill="#a8a8a8" stroke="#000" stroke-width="1.3" stroke-linejoin="miter"/>
<polygon points="469.3,885.9 475.77,874.7 462.83,874.7" fill="#a8a8a8" stroke="#000" stroke-width="1.3" stroke-linejoin="miter"/>
<text x="479" y="860.1" font-size="11.8" text-anchor="start" fill="#000" stroke="#000" stroke-width="0.3">TopHat2</text>
<text x="479" y="882.5" font-size="11.8" text-anchor="start" fill="#000" stroke="#000" stroke-width="0.3">TopHat2 ann</text>
<polygon points="565.2,851.5 571.67,862.7 558.73,862.7" fill="#ff0000" stroke="#000" stroke-width="1.3" stroke-linejoin="miter"/>
<polygon points="565.2,885.9 571.67,874.7 558.73,874.7" fill="#ff0000" stroke="#000" stroke-width="1.3" stroke-linejoin="miter"/>
<text x="573.4" y="860.1" font-size="11.8" text-anchor="start" fill="#000" stroke="#000" stroke-width="0.3">CM Bwa</text>
<text x="573.4" y="882.5" font-size="11.8" text-anchor="start" fill="#000" stroke="#000" stroke-width="0.3">CM Bwa ann</text>
<polygon points="660.2,851.5 666.67,862.7 653.73,862.7" fill="#a350b5" stroke="#000" stroke-width="1.3" stroke-linejoin="miter"/>
<text x="670.3" y="860.1" font-size="11.8" text-anchor="start" fill="#000" stroke="#000" stroke-width="0.3">MapSplice 2</text>
<line x1="657" y1="880.3" x2="689" y2="880.3" stroke="#000" stroke-width="1.8" stroke-dasharray="0.01 6.1" stroke-linecap="round"/>
<text x="693.6" y="882.5" font-size="11.8" text-anchor="start" fill="#000" stroke="#000" stroke-width="0.3">Truth</text>
<path d="M89.2 378 C89.5 374.67 90.27 363.83 91 358 C91.73 352.17 92.1 348.33 93.6 343 C95.1 337.67 97.7 330.42 100 326 C102.3 321.58 104.4 319.85 107.4 316.5 C110.4 313.15 114.12 308.98 118 305.9 C121.88 302.82 126.65 300.38 130.7 298 C134.75 295.62 137.42 294.52 142.3 291.6 C147.18 288.68 153.58 284.43 160 280.5 C166.42 276.57 173.57 271.23 180.8 268 C188.03 264.77 195.45 263.42 203.4 261.1 C211.35 258.78 224.32 255.27 228.5 254.1" fill="none" stroke="#4db34d" stroke-width="2" stroke-dasharray="5 5" stroke-linecap="round" stroke-linejoin="round"/>
<path d="M89.4 378 C89.52 376.84 89.85 373.36 90.12 371.04 C90.4 368.71 90.7 366.39 91.07 364.07 C91.43 361.75 91.82 359.43 92.29 357.11 C92.76 354.79 93.27 352.46 93.89 350.14 C94.5 347.82 95.17 345.5 95.96 343.18 C96.76 340.86 97.63 338.54 98.66 336.21 C99.7 333.89 100.83 331.57 102.18 329.25 C103.53 326.93 105 324.61 106.75 322.29 C108.51 319.96 110.43 317.64 112.71 315.32 C114.99 313 117.49 310.68 120.46 308.36 C123.43 306.04 126.68 303.71 130.55 301.39 C134.42 299.07 138.64 296.75 143.68 294.43 C148.71 292.11 154.21 289.79 160.76 287.46 C167.32 285.14 176.39 283.63 183 280.5 C189.61 277.37 189.75 272.58 200.4 268.7 C211.05 264.82 239.15 259.12 246.9 257.2" fill="none" stroke="#4db34d" stroke-width="2" stroke-dasharray="0.01 3.8 5 3.8" stroke-linecap="round" stroke-linejoin="round"/>
<path d="M89.4 378 C89.52 376.93 89.84 373.73 90.11 371.59 C90.38 369.46 90.67 367.32 91.02 365.19 C91.37 363.05 91.76 360.92 92.21 358.78 C92.66 356.65 93.16 354.51 93.74 352.38 C94.33 350.24 94.97 348.1 95.73 345.97 C96.49 343.83 97.32 341.7 98.31 339.56 C99.29 337.43 100.36 335.29 101.64 333.16 C102.91 331.02 104.3 328.89 105.95 326.75 C107.61 324.61 109.4 322.48 111.54 320.34 C113.68 318.21 116.01 316.07 118.78 313.94 C121.54 311.8 124.56 309.67 128.14 307.53 C131.72 305.4 135.63 303.26 140.27 301.12 C144.91 298.99 149.96 296.85 155.97 294.72 C161.97 292.58 168.52 290.45 176.3 288.31 C184.07 286.18 192.55 284.04 202.62 281.91 C212.69 279.77 231.02 276.57 236.7 275.5" fill="none" stroke="#4db34d" stroke-width="2.5" stroke-dasharray="0.01 4.6" stroke-linecap="round" stroke-linejoin="round"/>
<path d="M89.4 378 C89.52 376.87 89.85 373.47 90.13 371.2 C90.41 368.93 90.72 366.67 91.09 364.4 C91.45 362.13 91.86 359.87 92.33 357.6 C92.81 355.33 93.34 353.07 93.96 350.8 C94.59 348.53 95.27 346.27 96.09 344 C96.9 341.73 97.79 339.47 98.86 337.2 C99.92 334.93 101.09 332.67 102.48 330.4 C103.87 328.13 105.38 325.87 107.2 323.6 C109.01 321.33 110.99 319.07 113.36 316.8 C115.73 314.53 118.31 312.27 121.4 310 C124.49 307.73 127.87 305.47 131.9 303.2 C135.93 300.93 140.33 298.67 145.59 296.4 C150.86 294.13 156.6 291.87 163.47 289.6 C170.34 287.33 182.91 283.93 186.8 282.8" fill="none" stroke="#4db34d" stroke-width="2" stroke-linecap="round" stroke-linejoin="round"/>
<path d="M89.4 378 C89.53 376.78 89.87 373.12 90.16 370.68 C90.46 368.24 90.78 365.8 91.17 363.36 C91.56 360.92 91.98 358.48 92.5 356.04 C93.01 353.6 93.57 351.16 94.25 348.72 C94.92 346.28 95.66 343.84 96.55 341.4 C97.44 338.96 98.41 336.52 99.59 334.08 C100.76 331.64 102.05 329.2 103.59 326.76 C105.14 324.32 106.83 321.88 108.87 319.44 C110.91 317 113.14 314.56 115.83 312.12 C118.52 309.68 120.97 308.24 125 304.8 C129.03 301.37 133.72 296.13 140 291.5 C146.28 286.87 155.9 283.07 162.7 277 C169.5 270.93 176.73 260.03 180.8 255.1 C184.87 250.17 186.05 248.68 187.1 247.4" fill="none" stroke="#a8a8a8" stroke-width="2" stroke-dasharray="0.01 3.8 5 3.8" stroke-linecap="round" stroke-linejoin="round"/>
<path d="M89.4 378 C89.52 376.86 89.84 373.45 90.12 371.18 C90.39 368.9 90.69 366.63 91.05 364.36 C91.4 362.08 91.79 359.81 92.25 357.54 C92.72 355.26 93.22 352.99 93.82 350.71 C94.42 348.44 95.08 346.17 95.86 343.89 C96.64 341.62 97.49 339.35 98.51 337.07 C99.52 334.8 100.62 332.52 101.94 330.25 C103.26 327.98 104.69 325.7 106.4 323.43 C108.11 321.15 109.97 318.88 112.19 316.61 C114.41 314.33 116.83 312.06 119.71 309.79 C122.59 307.51 125.73 305.24 129.48 302.96 C133.22 300.69 137.3 298.42 142.16 296.14 C147.01 293.87 152.31 291.6 158.62 289.32 C164.93 287.05 176.44 283.64 180 282.5" fill="none" stroke="#a8a8a8" stroke-width="2" stroke-dasharray="5 5" stroke-linecap="round" stroke-linejoin="round"/>
<path d="M90.5 372 C90.65 370.97 91.07 367.88 91.42 365.82 C91.76 363.76 92.13 361.7 92.57 359.64 C93.01 357.58 93.48 355.52 94.03 353.46 C94.58 351.4 95.17 349.35 95.86 347.29 C96.56 345.23 97.31 343.17 98.18 341.11 C99.06 339.05 100.01 336.99 101.11 334.93 C102.21 332.87 103.41 330.81 104.8 328.75 C106.19 326.69 107.7 324.63 109.45 322.57 C111.21 320.51 113.11 318.45 115.32 316.39 C117.54 314.33 119.94 312.27 122.73 310.21 C125.52 308.15 128.55 306.1 132.08 304.04 C135.6 301.98 139.42 299.92 143.87 297.86 C148.31 295.8 153.13 293.74 158.74 291.68 C164.34 289.62 174.37 286.53 177.5 285.5" fill="none" stroke="#a8a8a8" stroke-width="2" stroke-linecap="round" stroke-linejoin="round"/>
<path d="M91 370 C91.17 369.01 91.63 366.05 92 364.07 C92.38 362.1 92.79 360.12 93.26 358.14 C93.73 356.17 94.24 354.19 94.83 352.21 C95.42 350.24 96.06 348.26 96.8 346.29 C97.54 344.31 98.33 342.33 99.26 340.36 C100.18 338.38 101.18 336.4 102.33 334.43 C103.49 332.45 104.74 330.48 106.18 328.5 C107.63 326.52 109.19 324.55 111 322.57 C112.81 320.6 114.76 318.62 117.02 316.64 C119.28 314.67 121.73 312.69 124.56 310.71 C127.39 308.74 130.45 306.76 133.99 304.79 C137.53 302.81 141.36 300.83 145.78 298.86 C150.21 296.88 155 294.9 160.54 292.93 C166.08 290.95 175.92 287.99 179 287" fill="none" stroke="#a8a8a8" stroke-width="2.5" stroke-dasharray="0.01 4.6" stroke-linecap="round" stroke-linejoin="round"/>
<path d="M89.4 378 C89.51 376.95 89.81 373.81 90.06 371.71 C90.3 369.62 90.57 367.52 90.89 365.43 C91.21 363.33 91.55 361.23 91.95 359.14 C92.36 357.04 92.79 354.95 93.31 352.85 C93.82 350.75 94.38 348.66 95.03 346.56 C95.68 344.47 96.39 342.37 97.22 340.27 C98.05 338.18 98.96 336.08 100.01 333.99 C101.07 331.89 102.22 329.8 103.57 327.7 C104.92 325.6 106.38 323.51 108.1 321.41 C109.81 319.32 111.68 317.22 113.86 315.12 C116.04 313.03 118.42 310.93 121.2 308.84 C123.98 306.74 127 304.65 130.54 302.55 C134.08 300.45 137.93 298.36 142.43 296.26 C146.94 294.17 151.84 292.07 157.57 289.97 C163.31 287.88 169.55 285.78 176.85 283.69 C184.16 281.59 197.31 278.45 201.4 277.4" fill="none" stroke="#1ee0d2" stroke-width="2" stroke-linecap="round" stroke-linejoin="round"/>
<path d="M89.4 378 C89.52 376.85 89.84 373.4 90.12 371.11 C90.39 368.81 90.69 366.51 91.05 364.21 C91.4 361.92 91.79 359.62 92.25 357.32 C92.72 355.02 93.22 352.73 93.82 350.43 C94.42 348.13 95.08 345.83 95.86 343.54 C96.64 341.24 97.49 338.94 98.51 336.64 C99.52 334.35 100.62 332.05 101.94 329.75 C103.26 327.45 104.69 325.15 106.4 322.86 C108.11 320.56 109.97 318.26 112.19 315.96 C114.41 313.67 116.83 311.37 119.71 309.07 C122.59 306.77 125.73 304.48 129.48 302.18 C133.22 299.88 137.3 297.58 142.16 295.29 C147.01 292.99 152.31 290.69 158.62 288.39 C164.93 286.1 172.27 284.4 180 281.5 C187.73 278.6 199.15 273.25 205 271 C210.85 268.75 213.42 268.5 215.1 268" fill="none" stroke="#1ee0d2" stroke-width="2" stroke-dasharray="5 5" stroke-linecap="round" stroke-linejoin="round"/>
<path d="M91.5 370 C91.68 368.93 92.18 365.71 92.59 363.57 C93 361.43 93.44 359.29 93.94 357.14 C94.45 355 95 352.86 95.63 350.71 C96.26 348.57 96.94 346.43 97.72 344.29 C98.5 342.14 99.34 340 100.31 337.86 C101.28 335.71 102.33 333.57 103.54 331.43 C104.74 329.29 106.05 327.14 107.55 325 C109.04 322.86 110.66 320.71 112.52 318.57 C114.38 316.43 116.39 314.29 118.71 312.14 C121.02 310 123.52 307.86 126.39 305.71 C129.26 303.57 132.36 301.43 135.93 299.29 C139.49 297.14 143.35 295 147.78 292.86 C152.21 290.71 157 288.57 162.51 286.43 C168.01 284.29 177.75 281.07 180.8 280" fill="none" stroke="#ff0000" stroke-width="2.1" stroke-dasharray="5 5" stroke-linecap="round" stroke-linejoin="round"/>
<path d="M92.5 365.8 C92.71 364.86 93.28 362.06 93.73 360.19 C94.19 358.31 94.68 356.44 95.24 354.57 C95.8 352.7 96.41 350.83 97.09 348.96 C97.78 347.09 98.52 345.21 99.36 343.34 C100.2 341.47 101.1 339.6 102.13 337.73 C103.16 335.86 104.26 333.99 105.52 332.11 C106.78 330.24 108.14 328.37 109.68 326.5 C111.22 324.63 112.88 322.76 114.76 320.89 C116.65 319.01 118.68 317.14 120.99 315.27 C123.3 313.4 125.79 311.53 128.62 309.66 C131.44 307.79 134.49 305.91 137.95 304.04 C141.41 302.17 145.14 300.3 149.38 298.43 C153.61 296.56 158.18 294.69 163.37 292.81 C168.56 290.94 177.64 288.14 180.5 287.2" fill="none" stroke="#ff0000" stroke-width="2.5" stroke-dasharray="0.01 4.6" stroke-linecap="round" stroke-linejoin="round"/>
<line x1="84.5" y1="278" x2="252.5" y2="278" stroke="#000" stroke-width="1.7" stroke-dasharray="1.2 3.8" stroke-linecap="round"/>
<line x1="180.4" y1="242.8" x2="180.4" y2="382.8" stroke="#000" stroke-width="1.7" stroke-dasharray="1.2 3.8" stroke-linecap="round"/>
<circle cx="201.4" cy="277.4" r="3" fill="#1ee0d2" stroke="#000" stroke-width="1.2"/>
<rect x="212.97" y="265.87" width="4.25" height="4.25" fill="#1ee0d2" stroke="#000" stroke-width="1.2"/>
<circle cx="186.8" cy="282.8" r="3" fill="#4db34d" stroke="#000" stroke-width="1.2"/>
<rect x="226.37" y="251.97" width="4.25" height="4.25" fill="#4db34d" stroke="#000" stroke-width="1.2"/>
<polygon points="246.9,260 250.13,254.4 243.67,254.4" fill="#4db34d" stroke="#000" stroke-width="1.2" stroke-linejoin="miter"/>
<polygon points="236.7,272.7 239.93,278.3 233.47,278.3" fill="#4db34d" stroke="#000" stroke-width="1.2" stroke-linejoin="miter"/>
<circle cx="177.5" cy="285.5" r="3" fill="#a8a8a8" stroke="#000" stroke-width="1.2"/>
<rect x="177.87" y="279.87" width="4.25" height="4.25" fill="#a8a8a8" stroke="#000" stroke-width="1.2"/>
<polygon points="179,284.2 182.23,289.8 175.77,289.8" fill="#a8a8a8" stroke="#000" stroke-width="1.2" stroke-linejoin="miter"/>
<polygon points="187.1,250.2 190.33,244.6 183.87,244.6" fill="#a8a8a8" stroke="#000" stroke-width="1.2" stroke-linejoin="miter"/>
<polygon points="180.8,280.8 184.03,275.2 177.57,275.2" fill="#ff0000" stroke="#000" stroke-width="1.2" stroke-linejoin="miter"/>
<polygon points="180.5,284.2 183.73,289.8 177.27,289.8" fill="#ff0000" stroke="#000" stroke-width="1.2" stroke-linejoin="miter"/>
<path d="M327.5 378.7 C327.92 374.75 329.12 361.2 330 355 C330.88 348.8 331.63 345.83 332.8 341.5 C333.97 337.17 335.27 333.05 337 329 C338.73 324.95 340.23 321.5 343.2 317.2 C346.17 312.9 351 307.4 354.8 303.2 C358.6 299 361.15 296.03 366 292 C370.85 287.97 378.97 282.58 383.9 279 C388.83 275.42 392.53 272.55 395.6 270.5 C398.67 268.45 395.8 268.82 402.3 266.7 C408.8 264.58 423.07 260.2 434.6 257.8 C446.13 255.4 465.35 253.22 471.5 252.3" fill="none" stroke="#4db34d" stroke-width="2" stroke-dasharray="5 5" stroke-linecap="round" stroke-linejoin="round"/>
<path d="M327.6 378.5 C327.76 377.2 328.2 373.31 328.56 370.71 C328.92 368.11 329.31 365.51 329.77 362.92 C330.23 360.32 330.72 357.72 331.3 355.12 C331.88 352.53 332.51 349.93 333.25 347.33 C333.98 344.74 334.78 342.14 335.71 339.54 C336.63 336.94 337.64 334.35 338.82 331.75 C339.99 329.15 341.27 326.56 342.76 323.96 C344.25 321.36 345.87 318.76 347.75 316.17 C349.63 313.57 351.68 310.97 354.07 308.38 C356.45 305.78 359.04 303.18 362.06 300.58 C365.08 297.99 368.36 295.39 372.18 292.79 C376.01 290.19 380.78 288.13 385 285 C389.22 281.87 391.67 277.33 397.5 274 C403.33 270.67 413.82 266.92 420 265 C426.18 263.08 423.68 264.25 434.6 262.5 C445.52 260.75 477.02 255.83 485.5 254.5" fill="none" stroke="#4db34d" stroke-width="2" stroke-dasharray="0.01 3.8 5 3.8" stroke-linecap="round" stroke-linejoin="round"/>
<path d="M327.6 378.5 C327.75 377.41 328.15 374.13 328.47 371.95 C328.8 369.77 329.15 367.58 329.56 365.4 C329.96 363.22 330.4 361.03 330.9 358.85 C331.41 356.67 331.95 354.48 332.58 352.3 C333.2 350.12 333.88 347.93 334.65 345.75 C335.43 343.57 336.27 341.38 337.24 339.2 C338.2 337.02 339.24 334.83 340.44 332.65 C341.64 330.47 342.94 328.28 344.43 326.1 C345.92 323.92 347.53 321.73 349.38 319.55 C351.23 317.37 353.23 315.18 355.53 313 C357.83 310.82 360.31 308.63 363.17 306.45 C366.02 304.27 369.11 302.08 372.66 299.9 C376.21 297.72 380.04 295.53 384.45 293.35 C388.86 291.17 390.74 288.96 399.1 286.8 C407.46 284.64 421.47 282.08 434.6 280.4 C447.73 278.72 470.68 277.32 477.9 276.7" fill="none" stroke="#4db34d" stroke-width="2.5" stroke-dasharray="0.01 4.6" stroke-linecap="round" stroke-linejoin="round"/>
<path d="M327.6 378.5 C327.75 377.46 328.15 374.33 328.47 372.25 C328.8 370.17 329.15 368.08 329.56 366 C329.96 363.92 330.4 361.83 330.9 359.75 C331.4 357.67 331.95 355.58 332.57 353.5 C333.2 351.42 333.87 349.33 334.65 347.25 C335.42 345.17 336.26 343.08 337.23 341 C338.19 338.92 339.23 336.83 340.43 334.75 C341.63 332.67 342.92 330.58 344.41 328.5 C345.9 326.42 347.51 324.33 349.36 322.25 C351.2 320.17 353.2 318.08 355.5 316 C357.79 313.92 360.28 311.83 363.13 309.75 C365.98 307.67 369.06 305.58 372.6 303.5 C376.15 301.42 379.98 299.33 384.38 297.25 C388.78 295.17 394.28 293.04 399 291 C403.72 288.96 410.42 286 412.7 285" fill="none" stroke="#4db34d" stroke-width="2" stroke-linecap="round" stroke-linejoin="round"/>
<path d="M327.6 378.5 C327.75 377.32 328.16 373.79 328.49 371.44 C328.82 369.08 329.18 366.73 329.59 364.38 C330.01 362.02 330.46 359.67 330.97 357.31 C331.49 354.96 332.05 352.6 332.69 350.25 C333.34 347.9 334.04 345.54 334.84 343.19 C335.64 340.83 336.51 338.48 337.51 336.12 C338.51 333.77 339.6 331.42 340.85 329.06 C342.09 326.71 343.82 323.73 345 322 C346.18 320.27 343.85 323.63 347.9 318.7 C351.95 313.77 362.35 300.35 369.3 292.4 C376.25 284.45 384.23 277.75 389.6 271 C394.97 264.25 399.12 255.87 401.5 251.9 C403.88 247.93 403.5 247.98 403.9 247.2" fill="none" stroke="#a8a8a8" stroke-width="2" stroke-dasharray="0.01 3.8 5 3.8" stroke-linecap="round" stroke-linejoin="round"/>
<path d="M327.6 378.5 C327.75 377.33 328.15 373.8 328.49 371.46 C328.82 369.11 329.18 366.76 329.59 364.41 C330.01 362.07 330.45 359.72 330.97 357.37 C331.48 355.02 332.04 352.68 332.68 350.33 C333.33 347.98 334.02 345.63 334.82 343.29 C335.62 340.94 336.49 338.59 337.49 336.24 C338.49 333.9 339.57 331.55 340.81 329.2 C342.05 326.85 343.4 324.5 344.95 322.16 C346.5 319.81 348.18 317.46 350.11 315.11 C352.04 312.77 354.13 310.42 356.54 308.07 C358.95 305.72 361.55 303.38 364.55 301.03 C367.55 298.68 370.8 296.33 374.54 293.99 C378.28 291.64 382.33 289.29 386.99 286.94 C391.65 284.6 399.91 281.07 402.5 279.9" fill="none" stroke="#a8a8a8" stroke-width="2" stroke-dasharray="5 5" stroke-linecap="round" stroke-linejoin="round"/>
<path d="M329 372 C329.18 371.05 329.67 368.22 330.06 366.33 C330.45 364.44 330.87 362.55 331.34 360.66 C331.81 358.77 332.32 356.88 332.89 354.99 C333.47 353.1 334.08 351.2 334.78 349.31 C335.47 347.42 336.22 345.53 337.06 343.64 C337.9 341.75 338.8 339.86 339.82 337.97 C340.84 336.08 341.94 334.19 343.17 332.3 C344.4 330.41 345.73 328.52 347.23 326.63 C348.72 324.74 350.33 322.85 352.14 320.96 C353.96 319.07 355.91 317.18 358.1 315.29 C360.3 313.4 362.66 311.5 365.32 309.61 C367.98 307.72 370.84 305.83 374.06 303.94 C377.29 302.05 380.75 300.16 384.66 298.27 C388.57 296.38 395.36 293.55 397.5 292.6" fill="none" stroke="#a8a8a8" stroke-width="2" stroke-linecap="round" stroke-linejoin="round"/>
<path d="M329.5 370 C329.69 369.01 330.2 366.06 330.61 364.09 C331.02 362.11 331.46 360.14 331.95 358.17 C332.44 356.2 332.97 354.23 333.56 352.26 C334.15 350.29 334.78 348.31 335.49 346.34 C336.2 344.37 336.96 342.4 337.82 340.43 C338.67 338.46 339.58 336.49 340.61 334.51 C341.63 332.54 342.74 330.57 343.97 328.6 C345.2 326.63 346.53 324.66 348.01 322.69 C349.49 320.71 351.08 318.74 352.86 316.77 C354.65 314.8 356.56 312.83 358.7 310.86 C360.84 308.89 363.14 306.91 365.72 304.94 C368.3 302.97 371.06 301 374.16 299.03 C377.26 297.06 380.58 295.09 384.3 293.11 C388.03 291.14 394.47 288.19 396.5 287.2" fill="none" stroke="#a8a8a8" stroke-width="2.5" stroke-dasharray="0.01 4.6" stroke-linecap="round" stroke-linejoin="round"/>
<path d="M328.7 370.6 C329 368.5 329.43 362.1 330.5 358 C331.57 353.9 332.98 351.27 335.1 346 C337.22 340.73 339.92 332.17 343.2 326.4 C346.48 320.63 349.97 316.62 354.8 311.4 C359.63 306.18 366.4 299.65 372.2 295.1 C378 290.55 385.12 286.73 389.6 284.1 C394.08 281.47 394.03 280.48 399.1 279.3 C404.17 278.12 412.48 277.85 420 277 C427.52 276.15 440.17 274.67 444.2 274.2" fill="none" stroke="#1ee0d2" stroke-width="2" stroke-linecap="round" stroke-linejoin="round"/>
<path d="M328.7 370.6 C329 368.5 329.43 362.1 330.5 358 C331.57 353.9 332.98 351.27 335.1 346 C337.22 340.73 339.92 332.17 343.2 326.4 C346.48 320.63 349.97 316.62 354.8 311.4 C359.63 306.18 366.4 299.65 372.2 295.1 C378 290.55 385.47 286.87 389.6 284.1 C393.73 281.33 389.5 281 397 278.5 C404.5 276 424.3 271.47 434.6 269.1 C444.9 266.73 454.77 265.1 458.8 264.3" fill="none" stroke="#1ee0d2" stroke-width="2" stroke-dasharray="5 5" stroke-linecap="round" stroke-linejoin="round"/>
<path d="M329 368 C329.67 365 331.17 355.83 333 350 C334.83 344.17 336.53 338.62 340 333 C343.47 327.38 347.52 323.07 353.8 316.3 C360.08 309.53 370.93 298.95 377.7 292.4 C384.47 285.85 391.03 279.97 394.4 277 C397.77 274.03 397.32 275 397.9 274.6" fill="none" stroke="#ff0000" stroke-width="2" stroke-dasharray="5 5" stroke-linecap="round" stroke-linejoin="round"/>
<path d="M329.9 365.9 C330.75 363.25 332.78 355.22 335 350 C337.22 344.78 340.7 338.77 343.2 334.6 C345.7 330.43 347.1 328.52 350 325 C352.9 321.48 355.93 317.42 360.6 313.5 C365.27 309.58 372.77 304.82 378 301.5 C383.23 298.18 388.82 295.45 392 293.6 C395.18 291.75 396.25 290.93 397.1 290.4" fill="none" stroke="#ff0000" stroke-width="2.5" stroke-dasharray="0.01 4.6" stroke-linecap="round" stroke-linejoin="round"/>
<line x1="322.3" y1="275.1" x2="490.7" y2="275.1" stroke="#000" stroke-width="1.7" stroke-dasharray="1.2 3.8" stroke-linecap="round"/>
<line x1="398.7" y1="242.8" x2="398.7" y2="383.3" stroke="#000" stroke-width="1.7" stroke-dasharray="1.2 3.8" stroke-linecap="round"/>
<circle cx="444.2" cy="274.2" r="3" fill="#1ee0d2" stroke="#000" stroke-width="1.2"/>
<rect x="456.67" y="262.17" width="4.25" height="4.25" fill="#1ee0d2" stroke="#000" stroke-width="1.2"/>
<circle cx="412.7" cy="285" r="3" fill="#4db34d" stroke="#000" stroke-width="1.2"/>
<rect x="469.37" y="250.17" width="4.25" height="4.25" fill="#4db34d" stroke="#000" stroke-width="1.2"/>
<polygon points="485.5,257.3 488.73,251.7 482.27,251.7" fill="#4db34d" stroke="#000" stroke-width="1.2" stroke-linejoin="miter"/>
<polygon points="477.9,273.9 481.13,279.5 474.67,279.5" fill="#4db34d" stroke="#000" stroke-width="1.2" stroke-linejoin="miter"/>
<circle cx="397.5" cy="292.6" r="3" fill="#a8a8a8" stroke="#000" stroke-width="1.2"/>
<rect x="400.37" y="277.77" width="4.25" height="4.25" fill="#a8a8a8" stroke="#000" stroke-width="1.2"/>
<polygon points="396.5,284.4 399.73,290 393.27,290" fill="#a8a8a8" stroke="#000" stroke-width="1.2" stroke-linejoin="miter"/>
<polygon points="404.5,250 407.73,244.4 401.27,244.4" fill="#a8a8a8" stroke="#000" stroke-width="1.2" stroke-linejoin="miter"/>
<polygon points="398.1,277.6 401.33,272 394.87,272" fill="#ff0000" stroke="#000" stroke-width="1.2" stroke-linejoin="miter"/>
<polygon points="397.1,287.6 400.33,293.2 393.87,293.2" fill="#ff0000" stroke="#000" stroke-width="1.2" stroke-linejoin="miter"/>
<path d="M583.5 350 C583.62 346.67 583.87 337.5 584.2 330 C584.53 322.5 584.53 311.33 585.5 305 C586.47 298.67 587.87 296.65 590 292 C592.13 287.35 595.05 282.75 598.3 277.1 C601.55 271.45 606.33 263.5 609.5 258.1 C612.67 252.7 616 246.93 617.3 244.7" fill="none" stroke="#a8a8a8" stroke-width="2" stroke-dasharray="0.01 3.8 5 3.8" stroke-linecap="round" stroke-linejoin="round"/>
<path d="M583.5 350 C583.67 346.67 583.92 336.33 584.5 330 C585.08 323.67 586 316.92 587 312 C588 307.08 587.68 305.02 590.5 300.5 C593.32 295.98 599.8 289.37 603.9 284.9 C608 280.43 612.43 276.6 615.1 273.7 C617.77 270.8 619.1 268.53 619.9 267.5" fill="none" stroke="#a8a8a8" stroke-width="2" stroke-dasharray="5 5" stroke-linecap="round" stroke-linejoin="round"/>
<path d="M583.3 360 C583.5 355.5 583.8 340 584.5 333 C585.2 326 585.92 322.67 587.5 318 C589.08 313.33 591.25 309.33 594 305 C596.75 300.67 600.5 295.42 604 292 C607.5 288.58 611.55 286.47 615 284.5 C618.45 282.53 623.08 280.92 624.7 280.2" fill="none" stroke="#a8a8a8" stroke-width="2" stroke-linecap="round" stroke-linejoin="round"/>
<path d="M583.3 360 C583.52 355.5 583.87 340 584.6 333 C585.33 326 586.05 322.83 587.7 318 C589.35 313.17 591.7 308.5 594.5 304 C597.3 299.5 601.25 294.42 604.5 291 C607.75 287.58 611.08 285.58 614 283.5 C616.92 281.42 620.67 279.33 622 278.5" fill="none" stroke="#a8a8a8" stroke-width="2.5" stroke-dasharray="0.01 4.6" stroke-linecap="round" stroke-linejoin="round"/>
<path d="M584.7 362.3 C584.93 356.95 585.27 337.98 586.1 330.2 C586.93 322.42 588.6 319.8 589.7 315.6 C590.8 311.4 590.33 309.75 592.7 305 C595.07 300.25 600.17 291.57 603.9 287.1 C607.63 282.63 611.38 280.62 615.1 278.2 C618.82 275.78 623.7 273.9 626.2 272.6 C628.7 271.3 629.45 270.77 630.1 270.4" fill="none" stroke="#ff0000" stroke-width="2" stroke-dasharray="5 5" stroke-linecap="round" stroke-linejoin="round"/>
<path d="M585 358 C585.25 353.33 585.67 337 586.5 330 C587.33 323 588.75 320 590 316 C591.25 312 591.67 310 594 306 C596.33 302 600.5 295.75 604 292 C607.5 288.25 610.92 286 615 283.5 C619.08 281 626.25 278.08 628.5 277" fill="none" stroke="#ff0000" stroke-width="2.5" stroke-dasharray="0.01 4.6" stroke-linecap="round" stroke-linejoin="round"/>
<path d="M583 370 C583.05 366.88 583.1 358.38 583.3 351.3 C583.5 344.22 583.43 334.07 584.2 327.5 C584.97 320.93 586.67 316.03 587.9 311.9 C589.13 307.77 589.58 305.85 591.6 302.7 C593.62 299.55 596.1 295.95 600 293 C603.9 290.05 608.33 287.37 615 285 C621.67 282.63 627.5 280.97 640 278.8 C652.5 276.63 673.65 274.15 690 272 C706.35 269.85 730.08 266.92 738.1 265.9" fill="none" stroke="#1ee0d2" stroke-width="2" stroke-linecap="round" stroke-linejoin="round"/>
<path d="M583.5 345 C583.73 340.2 583.37 324.55 584.9 316.2 C586.43 307.85 589.53 300.3 592.7 294.9 C595.87 289.5 600.17 286.58 603.9 283.8 C607.63 281.02 610.45 280.17 615.1 278.2 C619.75 276.23 626.65 273.4 631.8 272 C636.95 270.6 639.22 270.72 646 269.8 C652.78 268.88 656.62 268.63 672.5 266.5 C688.38 264.37 729.83 258.58 741.3 257" fill="none" stroke="#1ee0d2" stroke-width="2" stroke-dasharray="5 5" stroke-linecap="round" stroke-linejoin="round"/>
<path d="M584.2 340 C584.23 336.03 584.23 321.33 584.4 316.2 C584.57 311.07 584.55 312.93 585.2 309.2 C585.85 305.47 586.12 299.53 588.3 293.8 C590.48 288.07 594.77 279.08 598.3 274.8 C601.83 270.52 605.22 270.23 609.5 268.1 C613.78 265.97 618.42 263.77 624 262 C629.58 260.23 637 259.08 643 257.5 C649 255.92 653.52 254.17 660 252.5 C666.48 250.83 678.25 248.33 681.9 247.5" fill="none" stroke="#4db34d" stroke-width="2" stroke-dasharray="5 5" stroke-linecap="round" stroke-linejoin="round"/>
<path d="M586.5 363.2 C587.03 359.08 588.4 344.77 589.7 338.5 C591 332.23 592.47 329.57 594.3 325.6 C596.13 321.63 598.17 318.32 600.7 314.7 C603.23 311.08 605.25 307.75 609.5 303.9 C613.75 300.05 621.12 295.17 626.2 291.6 C631.28 288.03 634.37 285.6 640 282.5 C645.63 279.4 654.17 275.67 660 273 C665.83 270.33 661.92 270.6 675 266.5 C688.08 262.4 727.92 251.42 738.5 248.4" fill="none" stroke="#4db34d" stroke-width="2" stroke-dasharray="0.01 3.8 5 3.8" stroke-linecap="round" stroke-linejoin="round"/>
<path d="M586.5 363.2 C587.03 359.08 588.4 344.77 589.7 338.5 C591 332.23 592.47 329.57 594.3 325.6 C596.13 321.63 598.17 318.13 600.7 314.7 C603.23 311.27 605.25 308.37 609.5 305 C613.75 301.63 621.12 297.42 626.2 294.5 C631.28 291.58 632.28 290 640 287.5 C647.72 285 661.67 282.42 672.5 279.5 C683.33 276.58 694 273.05 705 270 C716 266.95 732.92 262.67 738.5 261.2" fill="none" stroke="#4db34d" stroke-width="2.5" stroke-dasharray="0.01 4.6" stroke-linecap="round" stroke-linejoin="round"/>
<path d="M582.9 376 C582.97 370.97 583 353.13 583.3 345.8 C583.6 338.47 583.93 336.58 584.7 332 C585.47 327.42 586.43 323.3 587.9 318.3 C589.37 313.3 590.83 306.8 593.5 302 C596.17 297.2 599.37 292.92 603.9 289.5 C608.43 286.08 613.68 283.75 620.7 281.5 C627.72 279.25 637.02 278.07 646 276 C654.98 273.93 669.83 270.25 674.6 269.1" fill="none" stroke="#4db34d" stroke-width="2" stroke-linecap="round" stroke-linejoin="round"/>
<circle cx="738.1" cy="265.9" r="3" fill="#1ee0d2" stroke="#000" stroke-width="1.2"/>
<rect x="739.17" y="254.87" width="4.25" height="4.25" fill="#1ee0d2" stroke="#000" stroke-width="1.2"/>
<circle cx="674.6" cy="269.1" r="3" fill="#4db34d" stroke="#000" stroke-width="1.2"/>
<rect x="679.77" y="245.37" width="4.25" height="4.25" fill="#4db34d" stroke="#000" stroke-width="1.2"/>
<polygon points="738.5,251.2 741.73,245.6 735.27,245.6" fill="#4db34d" stroke="#000" stroke-width="1.2" stroke-linejoin="miter"/>
<polygon points="738.5,258.4 741.73,264 735.27,264" fill="#4db34d" stroke="#000" stroke-width="1.2" stroke-linejoin="miter"/>
<circle cx="624.7" cy="280.2" r="3" fill="#a8a8a8" stroke="#000" stroke-width="1.2"/>
<polygon points="622,275.7 625.23,281.3 618.77,281.3" fill="#a8a8a8" stroke="#000" stroke-width="1.2" stroke-linejoin="miter"/>
<rect x="617.77" y="265.37" width="4.25" height="4.25" fill="#a8a8a8" stroke="#000" stroke-width="1.2"/>
<polygon points="617.4,247.1 620.63,241.5 614.17,241.5" fill="#a8a8a8" stroke="#000" stroke-width="1.2" stroke-linejoin="miter"/>
<polygon points="630.1,273.2 633.33,267.6 626.87,267.6" fill="#ff0000" stroke="#000" stroke-width="1.2" stroke-linejoin="miter"/>
<polygon points="628.5,274.2 631.73,279.8 625.27,279.8" fill="#ff0000" stroke="#000" stroke-width="1.2" stroke-linejoin="miter"/>
<polygon points="100.6,485.33 104.37,491.87 96.83,491.87" fill="#a350b5" stroke="#000" stroke-width="1.25" stroke-linejoin="miter"/>
<path d="M89.8 609 C90.17 600.83 91.27 574.67 92 560 C92.73 545.33 93.45 530.67 94.2 521 C94.95 511.33 95.6 506.45 96.5 502 C97.4 497.55 98.03 496.3 99.6 494.3 C101.17 492.3 103.75 491.5 105.9 490 C108.05 488.5 111.4 486.08 112.5 485.3" fill="none" stroke="#4db34d" stroke-width="2" stroke-linecap="round" stroke-linejoin="round"/>
<path d="M90 609 C90.92 601.17 93.67 574.83 95.5 562 C97.33 549.17 98.5 541 101 532 C103.5 523 106.27 514.17 110.5 508 C114.73 501.83 119.78 498 126.4 495 C133.02 492 140.72 491.3 150.2 490 C159.68 488.7 175.13 488.17 183.3 487.2 C191.47 486.23 196.55 484.7 199.2 484.2" fill="none" stroke="#4db34d" stroke-width="2.5" stroke-dasharray="0.01 4.6" stroke-linecap="round" stroke-linejoin="round"/>
<path d="M89.8 609 C90.75 601.17 92.97 575.08 95.5 562 C98.03 548.92 101.4 538.98 105 530.5 C108.6 522.02 111.77 516.43 117.1 511.1 C122.43 505.77 130.38 501.6 137 498.5 C143.62 495.4 149.08 494.38 156.8 492.5 C164.52 490.62 171.73 488.87 183.3 487.2 C194.87 485.53 219.05 483.28 226.2 482.5" fill="none" stroke="#4db34d" stroke-width="2" stroke-dasharray="5 5" stroke-linecap="round" stroke-linejoin="round"/>
<path d="M90 609 C91 601.17 93.42 575 96 562 C98.58 549 101.92 539.33 105.5 531 C109.08 522.67 112.25 517.25 117.5 512 C122.75 506.75 130.45 502.67 137 499.5 C143.55 496.33 149.08 495 156.8 493 C164.52 491 176.27 488.83 183.3 487.5 C190.33 486.17 191.88 485.67 199 485 C206.12 484.33 217.52 483.87 226 483.5 C234.48 483.13 245.92 482.92 249.9 482.8" fill="none" stroke="#4db34d" stroke-width="2" stroke-dasharray="0.01 3.8 5 3.8" stroke-linecap="round" stroke-linejoin="round"/>
<circle cx="112.5" cy="485.3" r="3.7" fill="#4db34d" stroke="#000" stroke-width="1.25"/>
<polygon points="199.2,480.93 202.97,487.47 195.43,487.47" fill="#4db34d" stroke="#000" stroke-width="1.25" stroke-linejoin="miter"/>
<rect x="223.5" y="479.8" width="5.4" height="5.4" fill="#4db34d" stroke="#000" stroke-width="1.25"/>
<polygon points="249.9,486.07 253.67,479.53 246.13,479.53" fill="#4db34d" stroke="#000" stroke-width="1.25" stroke-linejoin="miter"/>
<path d="M89.8 609 C90.58 601.17 93.13 574 94.5 562 C95.87 550 96.92 543.17 98 537 C99.08 530.83 99.17 530.67 101 525 C102.83 519.33 106.32 507.97 109 503 C111.68 498.03 115.75 496.5 117.1 495.2" fill="none" stroke="#a8a8a8" stroke-width="2" stroke-linecap="round" stroke-linejoin="round"/>
<path d="M89.8 609 C90.63 601.17 93.35 574 94.8 562 C96.25 550 97.3 543.5 98.5 537 C99.7 530.5 100.25 528.5 102 523 C103.75 517.5 106.67 508.83 109 504 C111.33 499.17 114.83 495.67 116 494" fill="none" stroke="#a8a8a8" stroke-width="2.5" stroke-dasharray="0.01 4.6" stroke-linecap="round" stroke-linejoin="round"/>
<path d="M90 609 C90.83 601.17 93.5 574.33 95 562 C96.5 549.67 97.5 542.33 99 535 C100.5 527.67 101.83 523.5 104 518 C106.17 512.5 109.05 506.57 112 502 C114.95 497.43 120.08 492.5 121.7 490.6" fill="none" stroke="#a8a8a8" stroke-width="2" stroke-dasharray="5 5" stroke-linecap="round" stroke-linejoin="round"/>
<path d="M90 609 C91.08 601.17 93.83 574.83 96.5 562 C99.17 549.17 102.42 540.17 106 532 C109.58 523.83 112.83 518.33 118 513 C123.17 507.67 130.53 503.25 137 500 C143.47 496.75 150.47 495.17 156.8 493.5 C163.13 491.83 169.4 491.05 175 490 C180.6 488.95 187.83 487.67 190.4 487.2" fill="none" stroke="#a8a8a8" stroke-width="2" stroke-dasharray="0.01 3.8 5 3.8" stroke-linecap="round" stroke-linejoin="round"/>
<rect x="119" y="487.9" width="5.4" height="5.4" fill="#a8a8a8" stroke="#000" stroke-width="1.25"/>
<circle cx="117.1" cy="495.2" r="3.7" fill="#a8a8a8" stroke="#000" stroke-width="1.25"/>
<polygon points="116,490.73 119.77,497.27 112.23,497.27" fill="#a8a8a8" stroke="#000" stroke-width="1.25" stroke-linejoin="miter"/>
<polygon points="190.4,490.47 194.17,483.93 186.63,483.93" fill="#a8a8a8" stroke="#000" stroke-width="1.25" stroke-linejoin="miter"/>
<path d="M89.8 609 C90.4 601.17 92.45 575.08 93.4 562 C94.35 548.92 94.63 538.33 95.5 530.5 C96.37 522.67 97.2 520 98.6 515 C100 510 101.48 504.47 103.9 500.5 C106.32 496.53 109.8 493.52 113.1 491.2 C116.4 488.88 119.72 487.97 123.7 486.6 C127.68 485.23 134.78 483.6 137 483" fill="none" stroke="#1ee0d2" stroke-width="2.2" stroke-linecap="round" stroke-linejoin="round"/>
<path d="M89.8 609 C90.5 601.17 92.35 575.08 94 562 C95.65 548.92 97.4 539.43 99.7 530.5 C102 521.57 104.68 514.07 107.8 508.4 C110.92 502.73 113.53 499.8 118.4 496.5 C123.27 493.2 131.25 490.58 137 488.6 C142.75 486.62 147.43 485.97 152.9 484.6 C158.37 483.23 166.98 481.1 169.8 480.4" fill="none" stroke="#1ee0d2" stroke-width="2.2" stroke-dasharray="5 5" stroke-linecap="round" stroke-linejoin="round"/>
<circle cx="137" cy="483" r="3.7" fill="#1ee0d2" stroke="#000" stroke-width="1.25"/>
<rect x="167.1" y="477.7" width="5.4" height="5.4" fill="#1ee0d2" stroke="#000" stroke-width="1.25"/>
<path d="M89.8 595.5 C90.08 589.58 90.9 570.83 91.5 560 C92.1 549.17 92.65 538.5 93.4 530.5 C94.15 522.5 94.97 516.75 96 512 C97.03 507.25 97.95 505.2 99.6 502 C101.25 498.8 103.6 495.33 105.9 492.8 C108.2 490.27 112.15 487.8 113.4 486.8" fill="none" stroke="#ff0000" stroke-width="2.2" stroke-dasharray="5 5" stroke-linecap="round" stroke-linejoin="round"/>
<path d="M90 590 C90.33 584.17 91.25 565.83 92 555 C92.75 544.17 93.5 533 94.5 525 C95.5 517 96.58 511.83 98 507 C99.42 502.17 101.37 498.63 103 496 C104.63 493.37 107 492 107.8 491.2" fill="none" stroke="#ff0000" stroke-width="2.5" stroke-dasharray="0.01 4.6" stroke-linecap="round" stroke-linejoin="round"/>
<polygon points="113.4,490.07 117.17,483.53 109.63,483.53" fill="#ff0000" stroke="#000" stroke-width="1.25" stroke-linejoin="miter"/>
<polygon points="107.8,487.93 111.57,494.47 104.03,494.47" fill="#ff0000" stroke="#000" stroke-width="1.25" stroke-linejoin="miter"/>
<path d="M324.3 608.4 C324.55 600.33 325.27 573.9 325.8 560 C326.33 546.1 326.88 535 327.5 525 C328.12 515 328.62 506.8 329.5 500 C330.38 493.2 332.25 486.83 332.8 484.2" fill="none" stroke="#4db34d" stroke-width="2" stroke-linecap="round" stroke-linejoin="round"/>
<path d="M324.5 608 C325 600 326.42 573 327.5 560 C328.58 547 329.58 538.67 331 530 C332.42 521.33 334.17 514 336 508 C337.83 502 339.32 498.32 342 494 C344.68 489.68 350.42 484.08 352.1 482.1" fill="none" stroke="#4db34d" stroke-width="2.5" stroke-dasharray="0.01 4.6" stroke-linecap="round" stroke-linejoin="round"/>
<path d="M324.5 608 C325.08 601.67 326.75 580.5 328 570 C329.25 559.5 330.28 553.33 332 545 C333.72 536.67 335.42 526.17 338.3 520 C341.18 513.83 344.87 511.33 349.3 508 C353.73 504.67 358.4 502.43 364.9 500 C371.4 497.57 381.12 495.4 388.3 493.4 C395.48 491.4 401.05 489.57 408 488 C414.95 486.43 423.15 485.27 430 484 C436.85 482.73 445.92 481 449.1 480.4" fill="none" stroke="#4db34d" stroke-width="2" stroke-dasharray="5 5" stroke-linecap="round" stroke-linejoin="round"/>
<path d="M324.5 608 C325 601.67 326.5 580.62 327.5 570 C328.5 559.38 328.7 553.53 330.5 544.3 C332.3 535.07 335.17 521.37 338.3 514.6 C341.43 507.83 344.87 506.82 349.3 503.7 C353.73 500.58 358.4 498.25 364.9 495.9 C371.4 493.55 381.12 491.43 388.3 489.6 C395.48 487.77 399.53 486.27 408 484.9 C416.47 483.53 433.92 481.98 439.1 481.4" fill="none" stroke="#4db34d" stroke-width="2" stroke-dasharray="0.01 3.8 5 3.8" stroke-linecap="round" stroke-linejoin="round"/>
<circle cx="332.8" cy="484.2" r="3.7" fill="#4db34d" stroke="#000" stroke-width="1.25"/>
<polygon points="352.1,478.83 355.87,485.37 348.33,485.37" fill="#4db34d" stroke="#000" stroke-width="1.25" stroke-linejoin="miter"/>
<rect x="446.4" y="477.7" width="5.4" height="5.4" fill="#4db34d" stroke="#000" stroke-width="1.25"/>
<polygon points="439.1,484.67 442.87,478.13 435.33,478.13" fill="#4db34d" stroke="#000" stroke-width="1.25" stroke-linejoin="miter"/>
<path d="M324.5 608 C324.92 600 326.08 573.33 327 560 C327.92 546.67 328.83 536.67 330 528 C331.17 519.33 332.35 513.87 334 508 C335.65 502.13 338.92 495.33 339.9 492.8" fill="none" stroke="#a8a8a8" stroke-width="2" stroke-linecap="round" stroke-linejoin="round"/>
<path d="M324.5 608 C324.88 600 325.97 573.83 326.8 560 C327.63 546.17 328.38 535 329.5 525 C330.62 515 331.62 507 333.5 500 C335.38 493 339.58 485.83 340.8 483" fill="none" stroke="#a8a8a8" stroke-width="2.5" stroke-dasharray="0.01 4.6" stroke-linecap="round" stroke-linejoin="round"/>
<path d="M324.5 608 C325 600 326.42 573.33 327.5 560 C328.58 546.67 329.58 537.17 331 528 C332.42 518.83 334.17 511.33 336 505 C337.83 498.67 341 492.5 342 490" fill="none" stroke="#a8a8a8" stroke-width="2" stroke-dasharray="5 5" stroke-linecap="round" stroke-linejoin="round"/>
<path d="M324.5 608 C325.17 601.67 326.98 580.62 328.5 570 C330.02 559.38 331.45 552.48 333.6 544.3 C335.75 536.12 338.02 527.15 341.4 520.9 C344.78 514.65 348.68 510.72 353.9 506.8 C359.12 502.88 365.67 499.87 372.7 497.4 C379.73 494.93 388.22 493.48 396.1 492 C403.98 490.52 411.02 489.67 420 488.5 C428.98 487.33 439.37 486.08 450 485 C460.63 483.92 478.17 482.5 483.8 482" fill="none" stroke="#a8a8a8" stroke-width="2" stroke-dasharray="0.01 3.8 5 3.8" stroke-linecap="round" stroke-linejoin="round"/>
<circle cx="339.9" cy="492.8" r="3.7" fill="#a8a8a8" stroke="#000" stroke-width="1.25"/>
<polygon points="340.8,479.73 344.57,486.27 337.03,486.27" fill="#a8a8a8" stroke="#000" stroke-width="1.25" stroke-linejoin="miter"/>
<rect x="339.3" y="487.3" width="5.4" height="5.4" fill="#a8a8a8" stroke="#000" stroke-width="1.25"/>
<polygon points="483.8,485.27 487.57,478.73 480.03,478.73" fill="#a8a8a8" stroke="#000" stroke-width="1.25" stroke-linejoin="miter"/>
<path d="M324.3 608.4 C324.68 599.02 325.83 566.68 326.6 552.1 C327.37 537.52 327.98 529.23 328.9 520.9 C329.82 512.57 330.78 507.57 332.1 502.1 C333.42 496.63 335.48 491.28 336.8 488.1 C338.12 484.92 339.47 483.85 340 483" fill="none" stroke="#1ee0d2" stroke-width="2.2" stroke-linecap="round" stroke-linejoin="round"/>
<path d="M324.3 608.4 C324.75 602 325.97 581.98 327 570 C328.03 558.02 328.87 545.73 330.5 536.5 C332.13 527.27 334.45 520.58 336.8 514.6 C339.15 508.62 341.48 504.77 344.6 500.6 C347.72 496.43 351.33 492.47 355.5 489.6 C359.67 486.73 365.22 484.88 369.6 483.4 C373.98 481.92 379.77 481.15 381.8 480.7" fill="none" stroke="#1ee0d2" stroke-width="2.2" stroke-dasharray="5 5" stroke-linecap="round" stroke-linejoin="round"/>
<circle cx="340" cy="483" r="3.7" fill="#1ee0d2" stroke="#000" stroke-width="1.25"/>
<rect x="379.1" y="478" width="5.4" height="5.4" fill="#1ee0d2" stroke="#000" stroke-width="1.25"/>
<path d="M324.5 600 C324.75 592.5 325.33 568.33 326 555 C326.67 541.67 327.5 529.17 328.5 520 C329.5 510.83 330.67 505.33 332 500 C333.33 494.67 334.93 490.9 336.5 488 C338.07 485.1 340.58 483.5 341.4 482.6" fill="none" stroke="#ff0000" stroke-width="2.2" stroke-dasharray="5 5" stroke-linecap="round" stroke-linejoin="round"/>
<path d="M324.3 590 C324.38 585 324.6 570 324.8 560 C325 550 325.2 540.43 325.5 530 C325.8 519.57 326.15 504 326.6 497.4 C327.05 490.8 327.93 491.57 328.2 490.4" fill="none" stroke="#ff0000" stroke-width="2.5" stroke-dasharray="0.01 4.6" stroke-linecap="round" stroke-linejoin="round"/>
<polygon points="341.4,485.87 345.17,479.33 337.63,479.33" fill="#ff0000" stroke="#000" stroke-width="1.25" stroke-linejoin="miter"/>
<polygon points="328.2,487.13 331.97,493.67 324.43,493.67" fill="#ff0000" stroke="#000" stroke-width="1.25" stroke-linejoin="miter"/>
<path d="M596 516 C596.07 513.68 596.22 506.6 596.4 502.1 C596.58 497.6 596.98 491.18 597.1 489" fill="none" stroke="#a350b5" stroke-width="2.5" stroke-dasharray="0.01 4.6" stroke-linecap="round" stroke-linejoin="round"/>
<polygon points="597.1,484.53 600.87,491.07 593.33,491.07" fill="#a350b5" stroke="#000" stroke-width="1.25" stroke-linejoin="miter"/>
<path d="M583.9 606 L586 570 L588.5 535 L591.3 503.7 L601.4 494.3 L610.8 489.3" fill="none" stroke="#4db34d" stroke-width="2" stroke-linecap="round" stroke-linejoin="round"/>
<path d="M584 608 C584.67 605 586.83 595.33 588 590 C589.17 584.67 590.08 580.4 591 576 C591.92 571.6 592.67 567.72 593.5 563.6 C594.33 559.48 595.18 555.4 596 551.3 C596.82 547.2 596.98 543.08 598.4 539 C599.82 534.92 601.83 531.28 604.5 526.8 C607.17 522.32 611.33 515.78 614.4 512.1 C617.47 508.42 618.82 507.37 622.9 504.7 C626.98 502.03 631.38 498.22 638.9 496.1 C646.42 493.98 657.48 493.18 668 492 C678.52 490.82 692.45 489.77 702 489 C711.55 488.23 721.42 487.67 725.3 487.4" fill="none" stroke="#4db34d" stroke-width="2.5" stroke-dasharray="0.01 4.6" stroke-linecap="round" stroke-linejoin="round"/>
<path d="M584 608 C584.5 605 586 595.33 587 590 C588 584.67 589.12 580.33 590 576 C590.88 571.67 591.5 568.08 592.3 564 C593.1 559.92 594.02 555.5 594.8 551.5 C595.58 547.5 595.72 544.08 597 540 C598.28 535.92 600 531.67 602.5 527 C605 522.33 608.92 515.83 612 512 C615.08 508.17 616.67 506.83 621 504 C625.33 501.17 630.17 497.25 638 495 C645.83 492.75 657.33 492.07 668 490.5 C678.67 488.93 696.33 486.42 702 485.6" fill="none" stroke="#4db34d" stroke-width="2" stroke-dasharray="5 5" stroke-linecap="round" stroke-linejoin="round"/>
<path d="M584.5 608 C585.25 605 587.75 595.33 589 590 C590.25 584.67 591.08 580.33 592 576 C592.92 571.67 593.67 568 594.5 564 C595.33 560 596.17 556 597 552 C597.83 548 598 544.17 599.5 540 C601 535.83 603.25 531.58 606 527 C608.75 522.42 612.92 516.17 616 512.5 C619.08 508.83 620.5 507.67 624.5 505 C628.5 502.33 632.75 498.58 640 496.5 C647.25 494.42 657.67 493.92 668 492.5 C678.33 491.08 689.6 489.1 702 488 C714.4 486.9 735.67 486.25 742.4 485.9" fill="none" stroke="#4db34d" stroke-width="2" stroke-dasharray="0.01 3.8 5 3.8" stroke-linecap="round" stroke-linejoin="round"/>
<circle cx="611" cy="489.7" r="3.7" fill="#4db34d" stroke="#000" stroke-width="1.25"/>
<rect x="699.3" y="482.9" width="5.4" height="5.4" fill="#4db34d" stroke="#000" stroke-width="1.25"/>
<polygon points="725.3,484.13 729.07,490.67 721.53,490.67" fill="#4db34d" stroke="#000" stroke-width="1.25" stroke-linejoin="miter"/>
<polygon points="742.4,489.17 746.17,482.63 738.63,482.63" fill="#4db34d" stroke="#000" stroke-width="1.25" stroke-linejoin="miter"/>
<path d="M584 608 C585 600 588.17 572.17 590 560 C591.83 547.83 593.17 542 595 535 C596.83 528 598.83 522.67 601 518 C603.17 513.33 605.58 509.65 608 507 C610.42 504.35 614.25 502.92 615.5 502.1" fill="none" stroke="#a8a8a8" stroke-width="2" stroke-linecap="round" stroke-linejoin="round"/>
<path d="M584 608 C585.08 600 588.58 572 590.5 560 C592.42 548 593.58 542.83 595.5 536 C597.42 529.17 599.58 524 602 519 C604.42 514 607.13 509.23 610 506 C612.87 502.77 617.67 500.67 619.2 499.6" fill="none" stroke="#a8a8a8" stroke-width="2.5" stroke-dasharray="0.01 4.6" stroke-linecap="round" stroke-linejoin="round"/>
<path d="M584 608 C584.92 600 587.75 572.33 589.5 560 C591.25 547.67 592.75 541 594.5 534 C596.25 527 597.92 522.5 600 518 C602.08 513.5 604.83 509.5 607 507 C609.17 504.5 612 503.67 613 503" fill="none" stroke="#a8a8a8" stroke-width="2" stroke-dasharray="5 5" stroke-linecap="round" stroke-linejoin="round"/>
<path d="M584 608 C585.08 600 588.5 572.17 590.5 560 C592.5 547.83 593.92 542.17 596 535 C598.08 527.83 600.33 521.83 603 517 C605.67 512.17 608.1 509.27 612 506 C615.9 502.73 624 498.83 626.4 497.4" fill="none" stroke="#a8a8a8" stroke-width="2" stroke-dasharray="0.01 3.8 5 3.8" stroke-linecap="round" stroke-linejoin="round"/>
<circle cx="615.9" cy="501.3" r="3.7" fill="#a8a8a8" stroke="#000" stroke-width="1.25"/>
<circle cx="619.2" cy="499.6" r="3.7" fill="#a8a8a8" stroke="#000" stroke-width="1.25"/>
<polygon points="626.5,501.27 630.27,494.73 622.73,494.73" fill="#a8a8a8" stroke="#000" stroke-width="1.25" stroke-linejoin="miter"/>
<path d="M583.9 608 C584.73 598.68 587.28 565.83 588.9 552.1 C590.52 538.37 591.52 533.93 593.6 525.6 C595.68 517.27 598.27 507.32 601.4 502.1 C604.53 496.88 608.48 496.38 612.4 494.3 C616.32 492.22 620.08 490.95 624.9 489.6 C629.72 488.25 638.57 486.77 641.3 486.2" fill="none" stroke="#1ee0d2" stroke-width="2.2" stroke-linecap="round" stroke-linejoin="round"/>
<path d="M584 608 C585 598.67 588 565.83 590 552 C592 538.17 593.32 533.05 596 525 C598.68 516.95 602.1 509.2 606.1 503.7 C610.1 498.2 614.35 495.12 620 492 C625.65 488.88 632.93 486.9 640 485 C647.07 483.1 658.67 481.33 662.4 480.6" fill="none" stroke="#1ee0d2" stroke-width="2.2" stroke-dasharray="5 5" stroke-linecap="round" stroke-linejoin="round"/>
<circle cx="641.3" cy="486.2" r="3.7" fill="#1ee0d2" stroke="#000" stroke-width="1.25"/>
<rect x="660.6" y="477.6" width="5.4" height="5.4" fill="#1ee0d2" stroke="#000" stroke-width="1.25"/>
<path d="M583.9 600 C584.42 594.67 585.98 577.67 587 568 C588.02 558.33 588.92 550 590 542 C591.08 534 592.17 526.33 593.5 520 C594.83 513.67 596.58 507.67 598 504 C599.42 500.33 600.57 499.62 602 498 C603.43 496.38 605.83 494.92 606.6 494.3" fill="none" stroke="#ff0000" stroke-width="2.2" stroke-dasharray="5 5" stroke-linecap="round" stroke-linejoin="round"/>
<path d="M584 600 C584.58 592.5 586.33 566.67 587.5 555 C588.67 543.33 589.75 537.17 591 530 C592.25 522.83 593.5 517 595 512 C596.5 507 598.5 502.67 600 500 C601.5 497.33 603.33 496.67 604 496" fill="none" stroke="#ff0000" stroke-width="2.5" stroke-dasharray="0.01 4.6" stroke-linecap="round" stroke-linejoin="round"/>
<polygon points="606.6,497.57 610.37,491.03 602.83,491.03" fill="#ff0000" stroke="#000" stroke-width="1.25" stroke-linejoin="miter"/>
<path d="M90 780 C90.25 773.33 90.92 751.33 91.5 740 C92.08 728.67 92.75 720 93.5 712 C94.25 704 95.03 697.75 96 692 C96.97 686.25 98.75 679.92 99.3 677.5" fill="none" stroke="#a350b5" stroke-width="2.5" stroke-dasharray="0.01 4.6" stroke-linecap="round" stroke-linejoin="round"/>
<polygon points="99.6,674.53 103.37,681.07 95.83,681.07" fill="#a350b5" stroke="#000" stroke-width="1.25" stroke-linejoin="miter"/>
<path d="M90 786 C90.67 777.5 92.5 748.5 94 735 C95.5 721.5 97 712.83 99 705 C101 697.17 103.33 692.5 106 688 C108.67 683.5 111.85 680.67 115 678 C118.15 675.33 123.25 673 124.9 672" fill="none" stroke="#4db34d" stroke-width="2" stroke-linecap="round" stroke-linejoin="round"/>
<path d="M90 786 C90.92 776.67 93.5 744 95.5 730 C97.5 716 99.58 709 102 702 C104.42 695 106.48 691.83 110 688 C113.52 684.17 117.02 681.5 123.1 679 C129.18 676.5 138.02 674.42 146.5 673 C154.98 671.58 162.4 671.33 174 670.5 C185.6 669.67 209.08 668.42 216.1 668" fill="none" stroke="#4db34d" stroke-width="2.5" stroke-dasharray="0.01 4.6" stroke-linecap="round" stroke-linejoin="round"/>
<path d="M90 786 C90.83 776.67 93.08 744.33 95 730 C96.92 715.67 99.08 707.33 101.5 700 C103.92 692.67 105.9 689.75 109.5 686 C113.1 682.25 116.93 679.92 123.1 677.5 C129.27 675.08 138.02 672.88 146.5 671.5 C154.98 670.12 162.42 670.12 174 669.2 C185.58 668.28 205.77 666.83 216 666 C226.23 665.17 232.17 664.5 235.4 664.2" fill="none" stroke="#4db34d" stroke-width="2" stroke-dasharray="5 5" stroke-linecap="round" stroke-linejoin="round"/>
<path d="M90 786 C90.87 776.67 93.23 744.17 95.2 730 C97.17 715.83 99.37 708.17 101.8 701 C104.23 693.83 106.25 690.83 109.8 687 C113.35 683.17 116.98 680.5 123.1 678 C129.22 675.5 138.02 673.37 146.5 672 C154.98 670.63 162.42 670.72 174 669.8 C185.58 668.88 203.43 667.37 216 666.5 C228.57 665.63 243.83 664.92 249.4 664.6" fill="none" stroke="#4db34d" stroke-width="2" stroke-dasharray="0.01 3.8 5 3.8" stroke-linecap="round" stroke-linejoin="round"/>
<circle cx="124.9" cy="672" r="3.7" fill="#4db34d" stroke="#000" stroke-width="1.25"/>
<polygon points="216.1,664.73 219.87,671.27 212.33,671.27" fill="#4db34d" stroke="#000" stroke-width="1.25" stroke-linejoin="miter"/>
<rect x="232.7" y="661.5" width="5.4" height="5.4" fill="#4db34d" stroke="#000" stroke-width="1.25"/>
<polygon points="249.4,667.87 253.17,661.33 245.63,661.33" fill="#4db34d" stroke="#000" stroke-width="1.25" stroke-linejoin="miter"/>
<path d="M90 786 C90.83 777.5 93.33 748 95 735 C96.67 722 98 715 100 708 C102 701 104.33 697 107 693 C109.67 689 114.5 685.5 116 684" fill="none" stroke="#a8a8a8" stroke-width="2" stroke-linecap="round" stroke-linejoin="round"/>
<path d="M90 786 C90.75 777.5 92.92 748.33 94.5 735 C96.08 721.67 97.67 713.5 99.5 706 C101.33 698.5 103.45 694.37 105.5 690 C107.55 685.63 110.75 681.5 111.8 679.8" fill="none" stroke="#a8a8a8" stroke-width="2.5" stroke-dasharray="0.01 4.6" stroke-linecap="round" stroke-linejoin="round"/>
<path d="M90 786 C90.92 777.5 93.67 748.33 95.5 735 C97.33 721.67 98.75 713.83 101 706 C103.25 698.17 105.72 693.35 109 688 C112.28 682.65 118.75 676.25 120.7 673.9" fill="none" stroke="#a8a8a8" stroke-width="2" stroke-dasharray="5 5" stroke-linecap="round" stroke-linejoin="round"/>
<path d="M90 786 C90.82 776.68 93.03 744.1 94.9 730.1 C96.77 716.1 98.85 709.03 101.2 702 C103.55 694.97 105.35 691.8 109 687.9 C112.65 684 116.85 681.2 123.1 678.6 C129.35 676 140.25 673.87 146.5 672.3 C152.75 670.73 158.25 669.72 160.6 669.2" fill="none" stroke="#a8a8a8" stroke-width="2" stroke-dasharray="0.01 3.8 5 3.8" stroke-linecap="round" stroke-linejoin="round"/>
<circle cx="116" cy="684" r="3.7" fill="#a8a8a8" stroke="#000" stroke-width="1.25"/>
<polygon points="111.8,676.53 115.57,683.07 108.03,683.07" fill="#a8a8a8" stroke="#000" stroke-width="1.25" stroke-linejoin="miter"/>
<rect x="118" y="671.2" width="5.4" height="5.4" fill="#a8a8a8" stroke="#000" stroke-width="1.25"/>
<polygon points="160.7,672.47 164.47,665.93 156.93,665.93" fill="#a8a8a8" stroke="#000" stroke-width="1.25" stroke-linejoin="miter"/>
<path d="M89.9 786 C90.48 776.68 92.03 744.62 93.4 730.1 C94.77 715.58 96.02 707.48 98.1 698.9 C100.18 690.32 103.03 683.55 105.9 678.6 C108.77 673.65 111.13 671.55 115.3 669.2 C119.47 666.85 123.23 665.88 130.9 664.5 C138.57 663.12 156.23 661.5 161.3 660.9" fill="none" stroke="#1ee0d2" stroke-width="2.2" stroke-linecap="round" stroke-linejoin="round"/>
<path d="M90 786 C90.75 777.5 92.83 748.5 94.5 735 C96.17 721.5 97.75 713.17 100 705 C102.25 696.83 104.67 691.17 108 686 C111.33 680.83 114.67 677.17 120 674 C125.33 670.83 133.33 668.83 140 667 C146.67 665.17 151.9 664.35 160 663 C168.1 661.65 183.83 659.58 188.6 658.9" fill="none" stroke="#1ee0d2" stroke-width="2.2" stroke-dasharray="5 5" stroke-linecap="round" stroke-linejoin="round"/>
<circle cx="161.3" cy="660.9" r="3.7" fill="#1ee0d2" stroke="#000" stroke-width="1.25"/>
<rect x="185.9" y="656.2" width="5.4" height="5.4" fill="#1ee0d2" stroke="#000" stroke-width="1.25"/>
<path d="M89.9 770 C90.22 763.35 90.97 741.95 91.8 730.1 C92.63 718.25 93.6 706.97 94.9 698.9 C96.2 690.83 97.77 685.87 99.6 681.7 C101.43 677.53 103.6 676.03 105.9 673.9 C108.2 671.77 112.15 669.73 113.4 668.9" fill="none" stroke="#ff0000" stroke-width="2.2" stroke-dasharray="5 5" stroke-linecap="round" stroke-linejoin="round"/>
<path d="M90 775 C90.33 768.33 91.17 746.67 92 735 C92.83 723.33 93.83 712.5 95 705 C96.17 697.5 97.18 694.35 99 690 C100.82 685.65 104.75 680.75 105.9 678.9" fill="none" stroke="#ff0000" stroke-width="2.5" stroke-dasharray="0.01 4.6" stroke-linecap="round" stroke-linejoin="round"/>
<polygon points="113.4,672.17 117.17,665.63 109.63,665.63" fill="#ff0000" stroke="#000" stroke-width="1.25" stroke-linejoin="miter"/>
<polygon points="105.9,675.63 109.67,682.17 102.13,682.17" fill="#ff0000" stroke="#000" stroke-width="1.25" stroke-linejoin="miter"/>
<path d="M324.6 775 C324.7 769.17 324.97 750.83 325.2 740 C325.43 729.17 325.75 720.17 326 710 C326.25 699.83 326.58 684.17 326.7 679" fill="none" stroke="#a350b5" stroke-width="2.5" stroke-dasharray="0.01 4.6" stroke-linecap="round" stroke-linejoin="round"/>
<polygon points="326.7,675.73 330.47,682.27 322.93,682.27" fill="#a350b5" stroke="#000" stroke-width="1.25" stroke-linejoin="miter"/>
<path d="M324.6 786 C324.92 778.33 325.77 753.5 326.5 740 C327.23 726.5 328.17 714.17 329 705 C329.83 695.83 330.6 690.77 331.5 685 C332.4 679.23 333.92 672.83 334.4 670.4" fill="none" stroke="#4db34d" stroke-width="2" stroke-linecap="round" stroke-linejoin="round"/>
<path d="M324.6 786 C325.17 778.33 326.77 753 328 740 C329.23 727 330.33 717 332 708 C333.67 699 335.67 691.67 338 686 C340.33 680.33 342.82 677.32 346 674 C349.18 670.68 355.25 667.42 357.1 666.1" fill="none" stroke="#4db34d" stroke-width="2.5" stroke-dasharray="0.01 4.6" stroke-linecap="round" stroke-linejoin="round"/>
<path d="M324.6 786 C325.42 781.67 327.85 769.67 329.5 760 C331.15 750.33 332.58 738 334.5 728 C336.42 718 338.33 707 341 700 C343.67 693 346.33 689.83 350.5 686 C354.67 682.17 359.58 679.67 366 677 C372.42 674.33 382 671.75 389 670 C396 668.25 401.17 667.67 408 666.5 C414.83 665.33 422.1 664.15 430 663 C437.9 661.85 451.17 660.17 455.4 659.6" fill="none" stroke="#4db34d" stroke-width="2" stroke-dasharray="5 5" stroke-linecap="round" stroke-linejoin="round"/>
<path d="M324.6 786 C325.33 781.67 327.5 769.32 329 760 C330.5 750.68 331.78 740.28 333.6 730.1 C335.42 719.92 337.28 706.7 339.9 698.9 C342.52 691.1 345.13 687.47 349.3 683.3 C353.47 679.13 358.4 676.52 364.9 673.9 C371.4 671.28 381.12 669.17 388.3 667.6 C395.48 666.03 398.5 665.78 408 664.5 C417.5 663.22 439.08 660.67 445.3 659.9" fill="none" stroke="#4db34d" stroke-width="2" stroke-dasharray="0.01 3.8 5 3.8" stroke-linecap="round" stroke-linejoin="round"/>
<circle cx="334.4" cy="670.4" r="3.7" fill="#4db34d" stroke="#000" stroke-width="1.25"/>
<polygon points="357.1,662.83 360.87,669.37 353.33,669.37" fill="#4db34d" stroke="#000" stroke-width="1.25" stroke-linejoin="miter"/>
<rect x="452.7" y="656.9" width="5.4" height="5.4" fill="#4db34d" stroke="#000" stroke-width="1.25"/>
<polygon points="445.3,663.17 449.07,656.63 441.53,656.63" fill="#4db34d" stroke="#000" stroke-width="1.25" stroke-linejoin="miter"/>
<path d="M324.6 786 C325.08 778.33 326.43 752.67 327.5 740 C328.57 727.33 329.58 718.33 331 710 C332.42 701.67 334.13 694.85 336 690 C337.87 685.15 341.17 682.42 342.2 680.9" fill="none" stroke="#a8a8a8" stroke-width="2" stroke-linecap="round" stroke-linejoin="round"/>
<path d="M324.6 786 C325.03 778.33 326.22 752.67 327.2 740 C328.18 727.33 329.28 718.67 330.5 710 C331.72 701.33 333.07 693.77 334.5 688 C335.93 682.23 338.33 677.5 339.1 675.4" fill="none" stroke="#a8a8a8" stroke-width="2.5" stroke-dasharray="0.01 4.6" stroke-linecap="round" stroke-linejoin="round"/>
<path d="M324.6 786 C325.17 778.33 326.77 753 328 740 C329.23 727 330.33 717 332 708 C333.67 699 335.67 692 338 686 C340.33 680 344.67 674.33 346 672" fill="none" stroke="#a8a8a8" stroke-width="2" stroke-dasharray="5 5" stroke-linecap="round" stroke-linejoin="round"/>
<path d="M324.6 786 C325.5 781.67 327.97 771.4 330 760 C332.03 748.6 333.58 728.83 336.8 717.6 C340.02 706.37 344.62 698.85 349.3 692.6 C353.98 686.35 358.4 683.48 364.9 680.1 C371.4 676.72 381.12 674.32 388.3 672.3 C395.48 670.28 399.38 669.38 408 668 C416.62 666.62 427.37 665.25 440 664 C452.63 662.75 476.5 661.08 483.8 660.5" fill="none" stroke="#a8a8a8" stroke-width="2" stroke-dasharray="0.01 3.8 5 3.8" stroke-linecap="round" stroke-linejoin="round"/>
<circle cx="342.2" cy="680.9" r="3.7" fill="#a8a8a8" stroke="#000" stroke-width="1.25"/>
<polygon points="339.1,672.13 342.87,678.67 335.33,678.67" fill="#a8a8a8" stroke="#000" stroke-width="1.25" stroke-linejoin="miter"/>
<rect x="343.3" y="669.3" width="5.4" height="5.4" fill="#a8a8a8" stroke="#000" stroke-width="1.25"/>
<polygon points="483.8,663.77 487.57,657.23 480.03,657.23" fill="#a8a8a8" stroke="#000" stroke-width="1.25" stroke-linejoin="miter"/>
<path d="M324.6 786 C325.07 779.3 326.42 757.72 327.4 745.8 C328.38 733.88 329.47 723.62 330.5 714.5 C331.53 705.38 332.3 698.13 333.6 691.1 C334.9 684.07 336.42 677.65 338.3 672.3 C340.18 666.95 343.8 661.22 344.9 659" fill="none" stroke="#1ee0d2" stroke-width="2.2" stroke-linecap="round" stroke-linejoin="round"/>
<path d="M324.6 786 C325.33 778.33 327.5 751.92 329 740 C330.5 728.08 331.53 723.17 333.6 714.5 C335.67 705.83 338.27 694.77 341.4 688 C344.53 681.23 348.48 677.43 352.4 673.9 C356.32 670.37 360.73 668.75 364.9 666.8 C369.07 664.85 373.37 663.57 377.4 662.2 C381.43 660.83 387.15 659.2 389.1 658.6" fill="none" stroke="#1ee0d2" stroke-width="2.2" stroke-dasharray="5 5" stroke-linecap="round" stroke-linejoin="round"/>
<circle cx="344.9" cy="659" r="3.7" fill="#1ee0d2" stroke="#000" stroke-width="1.25"/>
<rect x="386.4" y="655.9" width="5.4" height="5.4" fill="#1ee0d2" stroke="#000" stroke-width="1.25"/>
<path d="M324.6 770 C324.8 760.75 325.08 727.65 325.8 714.5 C326.52 701.35 327.33 697.62 328.9 691.1 C330.47 684.58 332.85 679.32 335.2 675.4 C337.55 671.48 339.75 669.62 343 667.6 C346.25 665.58 352.75 664.02 354.7 663.3" fill="none" stroke="#ff0000" stroke-width="2.2" stroke-dasharray="5 5" stroke-linecap="round" stroke-linejoin="round"/>
<path d="M324.6 770 C324.7 763.33 324.97 741.67 325.2 730 C325.43 718.33 325.63 708.7 326 700 C326.37 691.3 327.17 681.5 327.4 677.8" fill="none" stroke="#ff0000" stroke-width="2.5" stroke-dasharray="0.01 4.6" stroke-linecap="round" stroke-linejoin="round"/>
<polygon points="354.7,666.57 358.47,660.03 350.93,660.03" fill="#ff0000" stroke="#000" stroke-width="1.25" stroke-linejoin="miter"/>
<polygon points="328,675.03 331.77,681.57 324.23,681.57" fill="#ff0000" stroke="#000" stroke-width="1.25" stroke-linejoin="miter"/>
<path d="M584 784 C584.33 777.5 585.25 757 586 745 C586.75 733 587.58 720.83 588.5 712 C589.42 703.17 590.5 697 591.5 692 C592.5 687 593.57 684.88 594.5 682 C595.43 679.12 596.67 675.92 597.1 674.7" fill="none" stroke="#a350b5" stroke-width="2.5" stroke-dasharray="0.01 4.6" stroke-linecap="round" stroke-linejoin="round"/>
<polygon points="597.1,671.43 600.87,677.97 593.33,677.97" fill="#a350b5" stroke="#000" stroke-width="1.25" stroke-linejoin="miter"/>
<path d="M584 784 C584.5 778.33 585.83 761.5 587 750 C588.17 738.5 589.67 723.83 591 715 C592.33 706.17 593.33 701.67 595 697 C596.67 692.33 598.5 689.83 601 687 C603.5 684.17 606.15 682.05 610 680 C613.85 677.95 621.75 675.58 624.1 674.7" fill="none" stroke="#4db34d" stroke-width="2" stroke-linecap="round" stroke-linejoin="round"/>
<path d="M584 784 C584.82 778.93 587.03 765.18 588.9 753.6 C590.77 742.02 593.12 723.88 595.2 714.5 C597.28 705.12 599.05 701.98 601.4 697.3 C603.75 692.62 605.38 689.4 609.3 686.4 C613.22 683.4 615.12 681 624.9 679.3 C634.68 677.6 655.48 677.08 668 676.2 C680.52 675.32 689.08 674.7 700 674 C710.92 673.3 727.92 672.33 733.5 672" fill="none" stroke="#4db34d" stroke-width="2.5" stroke-dasharray="0.01 4.6" stroke-linecap="round" stroke-linejoin="round"/>
<path d="M584 784 C584.75 778.83 586.75 764.67 588.5 753 C590.25 741.33 592.5 723.33 594.5 714 C596.5 704.67 598.17 701.67 600.5 697 C602.83 692.33 604.58 689.08 608.5 686 C612.42 682.92 614.08 680.25 624 678.5 C633.92 676.75 655.33 676.42 668 675.5 C680.67 674.58 691.07 673.83 700 673 C708.93 672.17 718 670.92 721.6 670.5" fill="none" stroke="#4db34d" stroke-width="2" stroke-dasharray="5 5" stroke-linecap="round" stroke-linejoin="round"/>
<path d="M584 784 C584.88 778.93 587.33 765.18 589.3 753.6 C591.27 742.02 593.68 723.88 595.8 714.5 C597.92 705.12 599.63 701.98 602 697.3 C604.37 692.62 606.08 689.4 610 686.4 C613.92 683.4 615.83 680.9 625.5 679.3 C635.17 677.7 653.92 677.85 668 676.8 C682.08 675.75 697.35 674.05 710 673 C722.65 671.95 738.25 670.92 743.9 670.5" fill="none" stroke="#4db34d" stroke-width="2" stroke-dasharray="0.01 3.8 5 3.8" stroke-linecap="round" stroke-linejoin="round"/>
<circle cx="624.1" cy="674.7" r="3.7" fill="#4db34d" stroke="#000" stroke-width="1.25"/>
<polygon points="733.5,668.73 737.27,675.27 729.73,675.27" fill="#4db34d" stroke="#000" stroke-width="1.25" stroke-linejoin="miter"/>
<rect x="718.9" y="667.8" width="5.4" height="5.4" fill="#4db34d" stroke="#000" stroke-width="1.25"/>
<polygon points="743.9,673.77 747.67,667.23 740.13,667.23" fill="#4db34d" stroke="#000" stroke-width="1.25" stroke-linejoin="miter"/>
<path d="M584 784 C584.57 778.93 586.05 765.18 587.4 753.6 C588.75 742.02 590.53 723.62 592.1 714.5 C593.67 705.38 594.98 703.07 596.8 698.9 C598.62 694.73 600.67 691.45 603 689.5 C605.33 687.55 609.5 687.58 610.8 687.2" fill="none" stroke="#a8a8a8" stroke-width="2" stroke-linecap="round" stroke-linejoin="round"/>
<path d="M584 784 C584.5 778.83 585.75 764.67 587 753 C588.25 741.33 590 723.17 591.5 714 C593 704.83 594.42 702.17 596 698 C597.58 693.83 599.18 691.33 601 689 C602.82 686.67 605.92 684.83 606.9 684" fill="none" stroke="#a8a8a8" stroke-width="2.5" stroke-dasharray="0.01 4.6" stroke-linecap="round" stroke-linejoin="round"/>
<path d="M584 784 C584.63 778.83 586.37 764.5 587.8 753 C589.23 741.5 590.98 724 592.6 715 C594.22 706 595.68 703.17 597.5 699 C599.32 694.83 601.58 692.17 603.5 690 C605.42 687.83 608.08 686.67 609 686" fill="none" stroke="#a8a8a8" stroke-width="2" stroke-dasharray="5 5" stroke-linecap="round" stroke-linejoin="round"/>
<path d="M584 784 C584.67 778.83 586.5 764.67 588 753 C589.5 741.33 591.33 723.17 593 714 C594.67 704.83 596 702.33 598 698 C600 693.67 601.95 690.72 605 688 C608.05 685.28 614.42 682.75 616.3 681.7" fill="none" stroke="#a8a8a8" stroke-width="2" stroke-dasharray="0.01 3.8 5 3.8" stroke-linecap="round" stroke-linejoin="round"/>
<circle cx="610.8" cy="687.2" r="3.7" fill="#a8a8a8" stroke="#000" stroke-width="1.25"/>
<polygon points="606.9,680.73 610.67,687.27 603.13,687.27" fill="#a8a8a8" stroke="#000" stroke-width="1.25" stroke-linejoin="miter"/>
<rect x="606.3" y="683.3" width="5.4" height="5.4" fill="#a8a8a8" stroke="#000" stroke-width="1.25"/>
<polygon points="616.3,684.97 620.07,678.43 612.53,678.43" fill="#a8a8a8" stroke="#000" stroke-width="1.25" stroke-linejoin="miter"/>
<path d="M583.9 784 C584.22 777.63 585.08 757.38 585.8 745.8 C586.52 734.22 587.28 723.37 588.2 714.5 C589.12 705.63 590.25 698.02 591.3 692.6 C592.35 687.18 593.33 684.6 594.5 682 C595.67 679.4 586.07 680.15 598.3 677 C610.53 673.85 656.3 665.42 667.9 663.1" fill="none" stroke="#1ee0d2" stroke-width="2.2" stroke-linecap="round" stroke-linejoin="round"/>
<path d="M584 784 C584.42 777.5 585.58 757 586.5 745 C587.42 733 588.42 720.83 589.5 712 C590.58 703.17 591.75 697.33 593 692 C594.25 686.67 595.83 683 597 680 C598.17 677 592.83 676.42 600 674 C607.17 671.58 625.55 668.23 640 665.5 C654.45 662.77 678.92 658.92 686.7 657.6" fill="none" stroke="#1ee0d2" stroke-width="2.2" stroke-dasharray="5 5" stroke-linecap="round" stroke-linejoin="round"/>
<circle cx="667.9" cy="663.1" r="3.7" fill="#1ee0d2" stroke="#000" stroke-width="1.25"/>
<rect x="684" y="654.9" width="5.4" height="5.4" fill="#1ee0d2" stroke="#000" stroke-width="1.25"/>
<path d="M583.9 784 C584.22 777.63 585.08 757.38 585.8 745.8 C586.52 734.22 587.28 723.37 588.2 714.5 C589.12 705.63 590.13 697.8 591.3 692.6 C592.47 687.4 593.77 685.52 595.2 683.3 C596.63 681.08 598.6 680.22 599.9 679.3 C601.2 678.38 602.48 678.05 603 677.8" fill="none" stroke="#ff0000" stroke-width="2.2" stroke-dasharray="5 5" stroke-linecap="round" stroke-linejoin="round"/>
<path d="M584 784 C584.33 777.67 585.25 757.5 586 746 C586.75 734.5 587.57 723.67 588.5 715 C589.43 706.33 590.43 699 591.6 694 C592.77 689 594.1 687.17 595.5 685 C596.9 682.83 599.25 681.67 600 681" fill="none" stroke="#ff0000" stroke-width="2.5" stroke-dasharray="0.01 4.6" stroke-linecap="round" stroke-linejoin="round"/>
<polygon points="603,681.07 606.77,674.53 599.23,674.53" fill="#ff0000" stroke="#000" stroke-width="1.25" stroke-linejoin="miter"/>
<polygon points="597.1,671.43 600.87,677.97 593.33,677.97" fill="#a350b5" stroke="#000" stroke-width="1.25" stroke-linejoin="miter"/>
</svg>
</body></html>
